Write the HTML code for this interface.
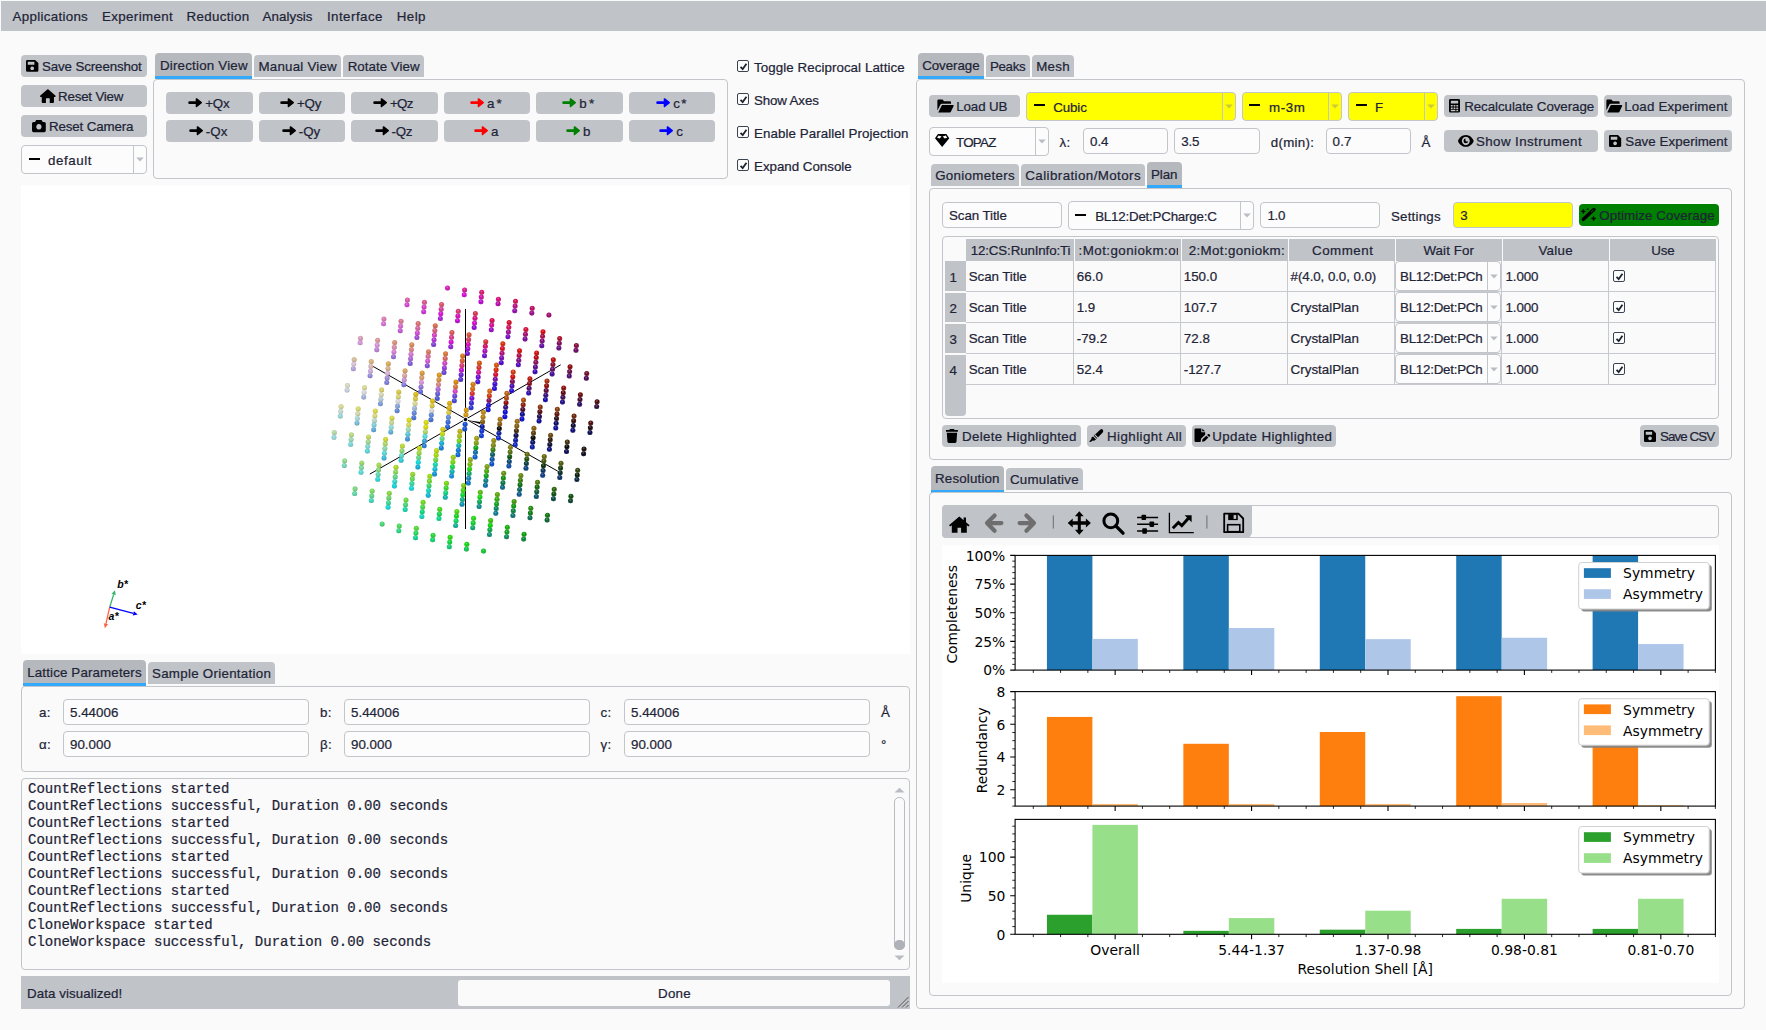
<!DOCTYPE html>
<html lang="en"><head><meta charset="utf-8"><title>Coverage</title>
<style>
html,body{margin:0;padding:0}
body{width:1766px;height:1030px;overflow:hidden;background:#fafafa;position:relative;font-family:'Liberation Sans','DejaVu Sans',sans-serif;font-size:13.33px;color:#1e2437}
.a{position:absolute;box-sizing:content-box}
.t{position:absolute;white-space:pre;line-height:20px;height:20px;-webkit-text-stroke:0.22px currentColor}
svg{display:block;overflow:visible}
</style></head>
<body>
<div class="a " style="left:1px;top:1px;width:1765px;height:30px;background:#c0c3c8;"></div>
<span id="t0" class="t" style="left:12.6px;top:7px;letter-spacing:0.3px;">Applications</span>
<span id="t1" class="t" style="left:101.9px;top:7px;letter-spacing:0.39px;">Experiment</span>
<span id="t2" class="t" style="left:186.5px;top:7px;letter-spacing:0.33px;">Reduction</span>
<span id="t3" class="t" style="left:262.6px;top:7px;letter-spacing:0.04px;">Analysis</span>
<span id="t4" class="t" style="left:326.9px;top:7px;letter-spacing:0.47px;">Interface</span>
<span id="t5" class="t" style="left:396.7px;top:7px;letter-spacing:0.46px;">Help</span>
<div class="a " style="left:21px;top:55px;width:126px;height:22px;background:#c0c3c8;border-radius:4px;"></div>
<svg class="a" style="left:25.8px;top:60px" width="12.4" height="11.8" viewBox="0 0 14 14" fill="#000" preserveAspectRatio="none"><path d="M1.500 0h8.800L14 3.700v8.800A1.500 1.500 0 0 1 12.500 14H1.500A1.500 1.500 0 0 1 0 12.500V1.500A1.500 1.500 0 0 1 1.500 0zM2 2v3.500h7.500V2zM7 7.700a2.150 2.150 0 1 0 .010 0z" fill-rule="evenodd"/></svg>
<span id="t6" class="t" style="left:42px;top:57px;letter-spacing:-0.12px;">Save Screenshot</span>
<div class="a " style="left:21px;top:85px;width:126px;height:22px;background:#c0c3c8;border-radius:4px;"></div>
<svg class="a" style="left:39.9px;top:88.9px" width="15.7" height="14" viewBox="0 0 18 16" fill="#000" preserveAspectRatio="none"><path d="M9 0.200a1 1 0 0 1 .700.260l7.900 7a1 1 0 0 1-.660 1.740H16v5.600A1.200 1.200 0 0 1 14.800 16H11.200V11.200a.600.600 0 0 0-.600-.600H7.400a.600.600 0 0 0-.600.600V16H3.200A1.200 1.200 0 0 1 2 14.800V9.200H1.060A1 1 0 0 1 .400 7.460l7.900-7A1 1 0 0 1 9 .200z"/></svg>
<span id="t7" class="t" style="left:58px;top:87px;letter-spacing:-0.19px;">Reset View</span>
<div class="a " style="left:21px;top:115px;width:126px;height:22px;background:#c0c3c8;border-radius:4px;"></div>
<svg class="a" style="left:32px;top:119.5px" width="13.8" height="12.2" viewBox="0 0 16 14" fill="#000" preserveAspectRatio="none"><path d="M5.300 0h5.400a1 1 0 0 1 .900.600l.700 1.600H14.200A1.800 1.800 0 0 1 16 4v8.200A1.800 1.800 0 0 1 14.200 14H1.800A1.800 1.800 0 0 1 0 12.200V4A1.800 1.800 0 0 1 1.800 2.200H3.700l.700-1.600A1 1 0 0 1 5.300 0zM8 4.700a3.100 3.100 0 1 0 .010 0z" fill-rule="evenodd"/></svg>
<span id="t8" class="t" style="left:49px;top:117px;letter-spacing:-0.13px;">Reset Camera</span>
<div class="a " style="left:21px;top:145px;width:124px;height:27px;background:#fcfcfc;border:1px solid #c2c5ca;border-radius:4px;"></div>
<div class="a " style="left:133px;top:146px;width:1px;height:27px;background:#c2c5ca;"></div>
<svg class="a" style="left:136px;top:156.5px;" width="8" height="5" viewBox="0 0 8 5"><path d="M0.3 0.5h7.4L4 4.6z" fill="#b9bcc2"/></svg>
<div class="a " style="left:28.5px;top:158px;width:11px;height:2px;background:#000;"></div>
<span id="t9" class="t" style="left:48px;top:151px;letter-spacing:0.59px;">default</span>
<div class="a " style="left:155px;top:53px;width:97px;height:25.5px;background:#b5b8bd;border-radius:4px 4px 0 0;"></div>
<div class="a " style="left:155px;top:75.5px;width:97px;height:3px;background:#33a9fc;"></div>
<span id="t10" class="t" style="left:160px;top:56px;letter-spacing:0.2px;">Direction View</span>
<div class="a " style="left:254px;top:55px;width:87px;height:22px;background:#c0c3c8;border-radius:4px 4px 0 0;"></div>
<span id="t11" class="t" style="left:258.5px;top:57px;letter-spacing:0.21px;">Manual View</span>
<div class="a " style="left:343px;top:55px;width:81px;height:22px;background:#c0c3c8;border-radius:4px 4px 0 0;"></div>
<span id="t12" class="t" style="left:347.7px;top:57px;letter-spacing:0.02px;">Rotate View</span>
<div class="a " style="left:153px;top:79px;width:573px;height:98px;border:1px solid #c2c5ca;border-radius:4px;"></div>
<div class="a " style="left:166px;top:92px;width:87px;height:21.5px;background:#c0c3c8;border-radius:4px;"></div>
<svg class="a" style="left:187.9px;top:98px" width="14.2" height="9.4" viewBox="0 0 14.2 9.4" fill="#000" stroke="#000"><path d="M1.600 4.700H9" stroke-width="2.700" stroke-linecap="round" fill="none"/><path d="M8.500 1L13.200 4.700 8.500 8.400z" stroke-width="1.600" stroke-linejoin="round"/></svg>
<span id="t13" class="t" style="left:205.3px;top:94px;letter-spacing:-0.26px;">+Qx</span>
<div class="a " style="left:166px;top:120px;width:87px;height:21.5px;background:#c0c3c8;border-radius:4px;"></div>
<svg class="a" style="left:188.9px;top:126px" width="14.2" height="9.4" viewBox="0 0 14.2 9.4" fill="#000" stroke="#000"><path d="M1.600 4.700H9" stroke-width="2.700" stroke-linecap="round" fill="none"/><path d="M8.500 1L13.200 4.700 8.500 8.400z" stroke-width="1.600" stroke-linejoin="round"/></svg>
<span id="t14" class="t" style="left:205.8px;top:122px;letter-spacing:0.11px;">-Qx</span>
<div class="a " style="left:259px;top:92px;width:86px;height:21.5px;background:#c0c3c8;border-radius:4px;"></div>
<svg class="a" style="left:280.1px;top:98px" width="14.2" height="9.4" viewBox="0 0 14.2 9.4" fill="#000" stroke="#000"><path d="M1.600 4.700H9" stroke-width="2.700" stroke-linecap="round" fill="none"/><path d="M8.500 1L13.200 4.700 8.500 8.400z" stroke-width="1.600" stroke-linejoin="round"/></svg>
<span id="t15" class="t" style="left:297px;top:94px;letter-spacing:-0.26px;">+Qy</span>
<div class="a " style="left:259px;top:120px;width:86px;height:21.5px;background:#c0c3c8;border-radius:4px;"></div>
<svg class="a" style="left:281.9px;top:126px" width="14.2" height="9.4" viewBox="0 0 14.2 9.4" fill="#000" stroke="#000"><path d="M1.600 4.700H9" stroke-width="2.700" stroke-linecap="round" fill="none"/><path d="M8.500 1L13.200 4.700 8.500 8.400z" stroke-width="1.600" stroke-linejoin="round"/></svg>
<span id="t16" class="t" style="left:298.8px;top:122px;letter-spacing:0.01px;">-Qy</span>
<div class="a " style="left:351px;top:92px;width:87px;height:21.5px;background:#c0c3c8;border-radius:4px;"></div>
<svg class="a" style="left:372.8px;top:98px" width="14.2" height="9.4" viewBox="0 0 14.2 9.4" fill="#000" stroke="#000"><path d="M1.600 4.700H9" stroke-width="2.700" stroke-linecap="round" fill="none"/><path d="M8.500 1L13.200 4.700 8.500 8.400z" stroke-width="1.600" stroke-linejoin="round"/></svg>
<span id="t17" class="t" style="left:390px;top:94px;letter-spacing:-0.76px;">+Qz</span>
<div class="a " style="left:351px;top:120px;width:87px;height:21.5px;background:#c0c3c8;border-radius:4px;"></div>
<svg class="a" style="left:374.9px;top:126px" width="14.2" height="9.4" viewBox="0 0 14.2 9.4" fill="#000" stroke="#000"><path d="M1.600 4.700H9" stroke-width="2.700" stroke-linecap="round" fill="none"/><path d="M8.500 1L13.200 4.700 8.500 8.400z" stroke-width="1.600" stroke-linejoin="round"/></svg>
<span id="t18" class="t" style="left:391.5px;top:122px;letter-spacing:-0.24px;">-Qz</span>
<div class="a " style="left:444px;top:92px;width:86px;height:21.5px;background:#c0c3c8;border-radius:4px;"></div>
<svg class="a" style="left:469.7px;top:98px" width="14.2" height="9.4" viewBox="0 0 14.2 9.4" fill="#f00" stroke="#f00"><path d="M1.600 4.700H9" stroke-width="2.700" stroke-linecap="round" fill="none"/><path d="M8.500 1L13.200 4.700 8.500 8.400z" stroke-width="1.600" stroke-linejoin="round"/></svg>
<span id="t19" class="t" style="left:487.1px;top:94px;letter-spacing:2.09px;">a*</span>
<div class="a " style="left:444px;top:120px;width:86px;height:21.5px;background:#c0c3c8;border-radius:4px;"></div>
<svg class="a" style="left:473.8px;top:126px" width="14.2" height="9.4" viewBox="0 0 14.2 9.4" fill="#f00" stroke="#f00"><path d="M1.600 4.700H9" stroke-width="2.700" stroke-linecap="round" fill="none"/><path d="M8.500 1L13.200 4.700 8.500 8.400z" stroke-width="1.600" stroke-linejoin="round"/></svg>
<span id="t20" class="t" style="left:491.1px;top:122px;">a</span>
<div class="a " style="left:536px;top:92px;width:87px;height:21.5px;background:#c0c3c8;border-radius:4px;"></div>
<svg class="a" style="left:561.8px;top:98px" width="14.2" height="9.4" viewBox="0 0 14.2 9.4" fill="#008000" stroke="#008000"><path d="M1.600 4.700H9" stroke-width="2.700" stroke-linecap="round" fill="none"/><path d="M8.500 1L13.200 4.700 8.500 8.400z" stroke-width="1.600" stroke-linejoin="round"/></svg>
<span id="t21" class="t" style="left:579.2px;top:94px;letter-spacing:2.39px;">b*</span>
<div class="a " style="left:536px;top:120px;width:87px;height:21.5px;background:#c0c3c8;border-radius:4px;"></div>
<svg class="a" style="left:565.9px;top:126px" width="14.2" height="9.4" viewBox="0 0 14.2 9.4" fill="#008000" stroke="#008000"><path d="M1.600 4.700H9" stroke-width="2.700" stroke-linecap="round" fill="none"/><path d="M8.500 1L13.200 4.700 8.500 8.400z" stroke-width="1.600" stroke-linejoin="round"/></svg>
<span id="t22" class="t" style="left:583px;top:122px;">b</span>
<div class="a " style="left:629px;top:92px;width:86px;height:21.5px;background:#c0c3c8;border-radius:4px;"></div>
<svg class="a" style="left:655.9px;top:98px" width="14.2" height="9.4" viewBox="0 0 14.2 9.4" fill="#00f" stroke="#00f"><path d="M1.600 4.700H9" stroke-width="2.700" stroke-linecap="round" fill="none"/><path d="M8.500 1L13.200 4.700 8.500 8.400z" stroke-width="1.600" stroke-linejoin="round"/></svg>
<span id="t23" class="t" style="left:673.3px;top:94px;letter-spacing:1.24px;">c*</span>
<div class="a " style="left:629px;top:120px;width:86px;height:21.5px;background:#c0c3c8;border-radius:4px;"></div>
<svg class="a" style="left:658.9px;top:126px" width="14.2" height="9.4" viewBox="0 0 14.2 9.4" fill="#00f" stroke="#00f"><path d="M1.600 4.700H9" stroke-width="2.700" stroke-linecap="round" fill="none"/><path d="M8.500 1L13.200 4.700 8.500 8.400z" stroke-width="1.600" stroke-linejoin="round"/></svg>
<span id="t24" class="t" style="left:676.3px;top:122px;">c</span>
<div class="a " style="left:737px;top:60px;width:10px;height:10px;background:#fcfcfc;border:1px solid #3c4350;border-radius:2px;"></div>
<svg class="a" style="left:738.5px;top:61.5px;" width="9" height="9" viewBox="0 0 10 10"><path d="M1.700 5.300L4.100 7.800 8.300 2" fill="none" stroke="#1c2430" stroke-width="2"/></svg>
<span id="t25" class="t" style="left:754px;top:58px;letter-spacing:0.07px;">Toggle Reciprocal Lattice</span>
<div class="a " style="left:737px;top:93px;width:10px;height:10px;background:#fcfcfc;border:1px solid #3c4350;border-radius:2px;"></div>
<svg class="a" style="left:738.5px;top:94.5px;" width="9" height="9" viewBox="0 0 10 10"><path d="M1.700 5.300L4.100 7.800 8.300 2" fill="none" stroke="#1c2430" stroke-width="2"/></svg>
<span id="t26" class="t" style="left:754px;top:91px;letter-spacing:-0.14px;">Show Axes</span>
<div class="a " style="left:737px;top:126px;width:10px;height:10px;background:#fcfcfc;border:1px solid #3c4350;border-radius:2px;"></div>
<svg class="a" style="left:738.5px;top:127.5px;" width="9" height="9" viewBox="0 0 10 10"><path d="M1.700 5.300L4.100 7.800 8.300 2" fill="none" stroke="#1c2430" stroke-width="2"/></svg>
<span id="t27" class="t" style="left:754px;top:124px;letter-spacing:0.07px;">Enable Parallel Projection</span>
<div class="a " style="left:737px;top:159px;width:10px;height:10px;background:#fcfcfc;border:1px solid #3c4350;border-radius:2px;"></div>
<svg class="a" style="left:738.5px;top:160.5px;" width="9" height="9" viewBox="0 0 10 10"><path d="M1.700 5.300L4.100 7.800 8.300 2" fill="none" stroke="#1c2430" stroke-width="2"/></svg>
<span id="t28" class="t" style="left:754px;top:157px;letter-spacing:-0.01px;">Expand Console</span>
<div class="a " style="left:21px;top:185px;width:889px;height:469px;background:#fff;"></div>
<svg class="a" style="left:21px;top:185px" width="889" height="469" viewBox="0 0 889 469"><path d="M444.5 124V344 M351.7 181.2L536.8 286.2 M348.8 289.1L539.7 179.8" stroke="#000" stroke-width="1" fill="none"/><defs><radialGradient id="sh" cx="0.45" cy="0.35" r="0.75"><stop offset="0" stop-color="#fff" stop-opacity="0.35"/><stop offset="0.45" stop-color="#fff" stop-opacity="0"/><stop offset="1" stop-color="#000" stop-opacity="0.45"/></radialGradient><g id="d"><circle r="2.5" fill="currentColor"/><circle r="2.5" fill="url(#sh)"/></g></defs><use href="#d" x="392.8" y="232.63" color="#3e6ed4"/><use href="#d" x="416.24" y="213.57" color="#414dd4"/><use href="#d" x="403.16" y="260.77" color="#1a7ad4"/><use href="#d" x="439.68" y="194.51" color="#442ad4"/><use href="#d" x="426.6" y="241.71" color="#1b55d4"/><use href="#d" x="413.52" y="288.91" color="#008ad4"/><use href="#d" x="450.04" y="222.65" color="#1d2dd4"/><use href="#d" x="436.96" y="269.85" color="#0060d4"/><use href="#d" x="473.48" y="203.59" color="#1f00d4"/><use href="#d" x="460.4" y="250.79" color="#0031d4"/><use href="#d" x="447.32" y="297.99" color="#006dca"/><use href="#d" x="483.84" y="231.73" color="#0000d4"/><use href="#d" x="470.76" y="278.93" color="#0047c8"/><use href="#d" x="494.2" y="259.87" color="#001dc5"/><use href="#d" x="365.74" y="197.6" color="#7274d4"/><use href="#d" x="352.66" y="244.8" color="#52a1d4"/><use href="#d" x="389.18" y="178.54" color="#7655d4"/><use href="#d" x="376.1" y="225.74" color="#5680d4"/><use href="#d" x="363.02" y="272.94" color="#30b4d4"/><use href="#d" x="412.62" y="159.48" color="#7c33d4"/><use href="#d" x="399.54" y="206.68" color="#5b5ed4"/><use href="#d" x="386.46" y="253.88" color="#3390d4"/><use href="#d" x="373.38" y="301.08" color="#02cfd4"/><use href="#d" x="422.98" y="187.62" color="#5f38d4"/><use href="#d" x="409.9" y="234.82" color="#3669d4"/><use href="#d" x="396.82" y="282.02" color="#03a6d4"/><use href="#d" x="446.42" y="168.56" color="#640ed4"/><use href="#d" x="433.34" y="215.76" color="#3a3dd4"/><use href="#d" x="420.26" y="262.96" color="#0478d4"/><use href="#d" x="407.18" y="310.16" color="#00b3d4"/><use href="#d" x="456.78" y="196.7" color="#3d0dd4"/><use href="#d" x="443.7" y="243.9" color="#0545d4"/><use href="#d" x="430.62" y="291.1" color="#0087d4"/><use href="#d" x="480.22" y="177.64" color="#4400d4"/><use href="#d" x="467.14" y="224.84" color="#060bd4"/><use href="#d" x="454.06" y="272.04" color="#0056d4"/><use href="#d" x="440.98" y="319.24" color="#008cab"/><use href="#d" x="490.58" y="205.78" color="#1600d4"/><use href="#d" x="477.5" y="252.98" color="#0021d1"/><use href="#d" x="464.42" y="300.18" color="#0067a7"/><use href="#d" x="514.02" y="186.72" color="#3200b9"/><use href="#d" x="500.94" y="233.92" color="#0000cd"/><use href="#d" x="487.86" y="281.12" color="#003fa3"/><use href="#d" x="474.78" y="328.32" color="#00728c"/><use href="#d" x="524.38" y="214.86" color="#0b00ac"/><use href="#d" x="511.3" y="262.06" color="#00139f"/><use href="#d" x="498.22" y="309.26" color="#005287"/><use href="#d" x="534.74" y="243" color="#00009a"/><use href="#d" x="521.66" y="290.2" color="#002f83"/><use href="#d" x="349.04" y="190.71" color="#8d86d4"/><use href="#d" x="335.96" y="237.91" color="#6eb8d4"/><use href="#d" x="372.48" y="171.65" color="#9465d4"/><use href="#d" x="359.4" y="218.85" color="#7396d4"/><use href="#d" x="346.32" y="266.05" color="#4dd1d4"/><use href="#d" x="395.92" y="152.59" color="#9a41d4"/><use href="#d" x="382.84" y="199.79" color="#7971d4"/><use href="#d" x="369.76" y="246.99" color="#51abd4"/><use href="#d" x="356.68" y="294.19" color="#1fd4d4"/><use href="#d" x="419.36" y="133.53" color="#a21ad4"/><use href="#d" x="406.28" y="180.73" color="#8048d4"/><use href="#d" x="393.2" y="227.93" color="#5680d4"/><use href="#d" x="380.12" y="275.13" color="#22c8d4"/><use href="#d" x="367.04" y="322.33" color="#02d4cf"/><use href="#d" x="429.72" y="161.67" color="#871bd4"/><use href="#d" x="416.64" y="208.87" color="#5c51d4"/><use href="#d" x="403.56" y="256.07" color="#2597d4"/><use href="#d" x="390.48" y="303.27" color="#00d4d4"/><use href="#d" x="453.16" y="142.61" color="#8f00d4"/><use href="#d" x="440.08" y="189.81" color="#631cd4"/><use href="#d" x="427" y="237.01" color="#285fd4"/><use href="#d" x="413.92" y="284.21" color="#00b5d4"/><use href="#d" x="400.84" y="331.41" color="#00d4b3"/><use href="#d" x="463.52" y="170.75" color="#6a00d4"/><use href="#d" x="450.44" y="217.95" color="#2c1ed4"/><use href="#d" x="437.36" y="265.15" color="#0073d4"/><use href="#d" x="424.28" y="312.35" color="#00afaf"/><use href="#d" x="486.96" y="151.69" color="#6f00c6"/><use href="#d" x="473.88" y="198.89" color="#3600d4"/><use href="#d" x="460.8" y="246.09" color="#0027d4"/><use href="#d" x="447.72" y="293.29" color="#0080aa"/><use href="#d" x="434.64" y="340.49" color="#00ab8c"/><use href="#d" x="497.32" y="179.83" color="#4c00b9"/><use href="#d" x="484.24" y="227.03" color="#0000d4"/><use href="#d" x="471.16" y="274.23" color="#004da5"/><use href="#d" x="458.08" y="321.43" color="#008787"/><use href="#d" x="520.76" y="160.77" color="#5800a0"/><use href="#d" x="507.68" y="207.97" color="#2200a8"/><use href="#d" x="494.6" y="255.17" color="#00139f"/><use href="#d" x="481.52" y="302.37" color="#006082"/><use href="#d" x="468.44" y="349.57" color="#008c72"/><use href="#d" x="531.12" y="188.91" color="#390092"/><use href="#d" x="518.04" y="236.11" color="#000094"/><use href="#d" x="504.96" y="283.31" color="#00367c"/><use href="#d" x="491.88" y="330.51" color="#006c6c"/><use href="#d" x="541.48" y="217.05" color="#150082"/><use href="#d" x="528.4" y="264.25" color="#000876"/><use href="#d" x="515.32" y="311.45" color="#004b67"/><use href="#d" x="551.84" y="245.19" color="#00006e"/><use href="#d" x="538.76" y="292.39" color="#002761"/><use href="#d" x="332.34" y="183.82" color="#ad9bd4"/><use href="#d" x="319.26" y="231.02" color="#8ed3d4"/><use href="#d" x="355.78" y="164.76" color="#b678d4"/><use href="#d" x="342.7" y="211.96" color="#96afd4"/><use href="#d" x="329.62" y="259.16" color="#6fd4d4"/><use href="#d" x="379.22" y="145.7" color="#bf52d4"/><use href="#d" x="366.14" y="192.9" color="#9e88d4"/><use href="#d" x="353.06" y="240.1" color="#76cbd4"/><use href="#d" x="339.98" y="287.3" color="#4dd4d1"/><use href="#d" x="402.66" y="126.64" color="#c828d4"/><use href="#d" x="389.58" y="173.84" color="#a85cd4"/><use href="#d" x="376.5" y="221.04" color="#7e9ed4"/><use href="#d" x="363.42" y="268.24" color="#48d4d4"/><use href="#d" x="350.34" y="315.44" color="#30d4b4"/><use href="#d" x="413.02" y="154.78" color="#b22bd4"/><use href="#d" x="399.94" y="201.98" color="#876ad4"/><use href="#d" x="386.86" y="249.18" color="#4fbed4"/><use href="#d" x="373.78" y="296.38" color="#22d4c8"/><use href="#d" x="436.46" y="135.72" color="#be00d4"/><use href="#d" x="423.38" y="182.92" color="#9230d4"/><use href="#d" x="410.3" y="230.12" color="#5680d4"/><use href="#d" x="397.22" y="277.32" color="#02d4d4"/><use href="#d" x="384.14" y="324.52" color="#03d4a6"/><use href="#d" x="459.9" y="116.66" color="#b400d4"/><use href="#d" x="446.82" y="163.86" color="#9e00d4"/><use href="#d" x="433.74" y="211.06" color="#5f38d4"/><use href="#d" x="420.66" y="258.26" color="#03a6d4"/><use href="#d" x="407.58" y="305.46" color="#00d4b5"/><use href="#d" x="394.5" y="352.66" color="#00d48a"/><use href="#d" x="470.26" y="144.8" color="#9600c7"/><use href="#d" x="457.18" y="192" color="#6a00d4"/><use href="#d" x="444.1" y="239.2" color="#0545d4"/><use href="#d" x="431.02" y="286.4" color="#00afaf"/><use href="#d" x="417.94" y="333.6" color="#00d487"/><use href="#d" x="493.7" y="125.74" color="#9000aa"/><use href="#d" x="480.62" y="172.94" color="#7100b7"/><use href="#d" x="467.54" y="220.14" color="#1600d4"/><use href="#d" x="454.46" y="267.34" color="#0067a7"/><use href="#d" x="441.38" y="314.54" color="#00aa80"/><use href="#d" x="428.3" y="361.74" color="#00ca6d"/><use href="#d" x="504.06" y="153.88" color="#74009c"/><use href="#d" x="490.98" y="201.08" color="#4200a4"/><use href="#d" x="477.9" y="248.28" color="#00139f"/><use href="#d" x="464.82" y="295.48" color="#007979"/><use href="#d" x="451.74" y="342.68" color="#00a767"/><use href="#d" x="514.42" y="182.02" color="#54008c"/><use href="#d" x="501.34" y="229.22" color="#04008a"/><use href="#d" x="488.26" y="276.42" color="#004270"/><use href="#d" x="475.18" y="323.62" color="#008260"/><use href="#d" x="537.86" y="162.96" color="#5d007f"/><use href="#d" x="524.78" y="210.16" color="#2c0078"/><use href="#d" x="511.7" y="257.36" color="#000467"/><use href="#d" x="498.62" y="304.56" color="#005959"/><use href="#d" x="485.54" y="351.76" color="#008752"/><use href="#d" x="548.22" y="191.1" color="#40006f"/><use href="#d" x="535.14" y="238.3" color="#00005f"/><use href="#d" x="522.06" y="285.5" color="#002d51"/><use href="#d" x="508.98" y="332.7" color="#00674b"/><use href="#d" x="558.58" y="219.24" color="#1e005c"/><use href="#d" x="545.5" y="266.44" color="#000049"/><use href="#d" x="532.42" y="313.64" color="#004444"/><use href="#d" x="568.94" y="247.38" color="#000046"/><use href="#d" x="555.86" y="294.58" color="#001f3d"/><use href="#d" x="339.08" y="157.87" color="#d48ed4"/><use href="#d" x="326" y="205.07" color="#c0ced4"/><use href="#d" x="312.92" y="252.27" color="#8ed4d3"/><use href="#d" x="362.52" y="138.81" color="#d465d4"/><use href="#d" x="349.44" y="186.01" color="#cca4d4"/><use href="#d" x="336.36" y="233.21" color="#a5d4d4"/><use href="#d" x="323.28" y="280.41" color="#6ed4b8"/><use href="#d" x="385.96" y="119.75" color="#d43ad4"/><use href="#d" x="372.88" y="166.95" color="#d475d4"/><use href="#d" x="359.8" y="214.15" color="#b1c3d4"/><use href="#d" x="346.72" y="261.35" color="#76d4cb"/><use href="#d" x="333.64" y="308.55" color="#52d4a1"/><use href="#d" x="396.32" y="147.89" color="#d43fd4"/><use href="#d" x="383.24" y="195.09" color="#bf8bd4"/><use href="#d" x="370.16" y="242.29" color="#88d4d4"/><use href="#d" x="357.08" y="289.49" color="#51d4ab"/><use href="#d" x="419.76" y="128.83" color="#d406d4"/><use href="#d" x="406.68" y="176.03" color="#d04ad4"/><use href="#d" x="393.6" y="223.23" color="#96afd4"/><use href="#d" x="380.52" y="270.43" color="#4fd4be"/><use href="#d" x="367.44" y="317.63" color="#33d490"/><use href="#d" x="443.2" y="109.77" color="#d400d4"/><use href="#d" x="430.12" y="156.97" color="#d400d4"/><use href="#d" x="417.04" y="204.17" color="#a85cd4"/><use href="#d" x="403.96" y="251.37" color="#48d4d4"/><use href="#d" x="390.88" y="298.57" color="#25d497"/><use href="#d" x="377.8" y="345.77" color="#1ad47a"/><use href="#d" x="453.56" y="137.91" color="#cd00c9"/><use href="#d" x="440.48" y="185.11" color="#be00d4"/><use href="#d" x="427.4" y="232.31" color="#5680d4"/><use href="#d" x="414.32" y="279.51" color="#03d4a6"/><use href="#d" x="401.24" y="326.71" color="#04d478"/><use href="#d" x="477" y="118.85" color="#b600a7"/><use href="#d" x="463.92" y="166.05" color="#a700b6"/><use href="#d" x="450.84" y="213.25" color="#6a00d4"/><use href="#d" x="437.76" y="260.45" color="#00afaf"/><use href="#d" x="424.68" y="307.65" color="#00d473"/><use href="#d" x="411.6" y="354.85" color="#00d460"/><use href="#d" x="487.36" y="146.99" color="#9a0097"/><use href="#d" x="474.28" y="194.19" color="#74009c"/><use href="#d" x="461.2" y="241.39" color="#00139f"/><use href="#d" x="448.12" y="288.59" color="#00a767"/><use href="#d" x="435.04" y="335.79" color="#00d456"/><use href="#d" x="510.8" y="127.93" color="#930086"/><use href="#d" x="497.72" y="175.13" color="#780082"/><use href="#d" x="484.64" y="222.33" color="#2c0078"/><use href="#d" x="471.56" y="269.53" color="#005959"/><use href="#d" x="458.48" y="316.73" color="#00a54d"/><use href="#d" x="445.4" y="363.93" color="#00c847"/><use href="#d" x="521.16" y="156.07" color="#790076"/><use href="#d" x="508.08" y="203.27" color="#4c0069"/><use href="#d" x="495" y="250.47" color="#000049"/><use href="#d" x="481.92" y="297.67" color="#007042"/><use href="#d" x="468.84" y="344.87" color="#00a33f"/><use href="#d" x="531.52" y="184.21" color="#5a0063"/><use href="#d" x="518.44" y="231.41" color="#150049"/><use href="#d" x="505.36" y="278.61" color="#003636"/><use href="#d" x="492.28" y="325.81" color="#007c36"/><use href="#d" x="554.96" y="165.15" color="#62005f"/><use href="#d" x="541.88" y="212.35" color="#35004c"/><use href="#d" x="528.8" y="259.55" color="#000028"/><use href="#d" x="515.72" y="306.75" color="#00512d"/><use href="#d" x="502.64" y="353.95" color="#00832f"/><use href="#d" x="565.32" y="193.29" color="#46004e"/><use href="#d" x="552.24" y="240.49" color="#080030"/><use href="#d" x="539.16" y="287.69" color="#002222"/><use href="#d" x="526.08" y="334.89" color="#006127"/><use href="#d" x="575.68" y="221.43" color="#260039"/><use href="#d" x="562.6" y="268.63" color="#000017"/><use href="#d" x="549.52" y="315.83" color="#003d1f"/><use href="#d" x="332.74" y="179.12" color="#d4bdd4"/><use href="#d" x="319.66" y="226.32" color="#c0d4ce"/><use href="#d" x="356.18" y="160.06" color="#d48bd4"/><use href="#d" x="343.1" y="207.26" color="#d4d4d4"/><use href="#d" x="330.02" y="254.46" color="#96d4af"/><use href="#d" x="379.62" y="141" color="#d45ecb"/><use href="#d" x="366.54" y="188.2" color="#d4acd4"/><use href="#d" x="353.46" y="235.4" color="#b1d4c3"/><use href="#d" x="340.38" y="282.6" color="#73d496"/><use href="#d" x="403.06" y="121.94" color="#d435c0"/><use href="#d" x="389.98" y="169.14" color="#d46dcf"/><use href="#d" x="376.9" y="216.34" color="#d4d4d4"/><use href="#d" x="363.82" y="263.54" color="#7ed49e"/><use href="#d" x="350.74" y="310.74" color="#56d480"/><use href="#d" x="426.5" y="102.88" color="#d40fb6"/><use href="#d" x="413.42" y="150.08" color="#d435c0"/><use href="#d" x="400.34" y="197.28" color="#d48bd4"/><use href="#d" x="387.26" y="244.48" color="#96d4af"/><use href="#d" x="374.18" y="291.68" color="#56d480"/><use href="#d" x="361.1" y="338.88" color="#3ed46e"/><use href="#d" x="436.86" y="131.02" color="#d403b3"/><use href="#d" x="423.78" y="178.22" color="#d435c0"/><use href="#d" x="410.7" y="225.42" color="#d4d4d4"/><use href="#d" x="397.62" y="272.62" color="#56d480"/><use href="#d" x="384.54" y="319.82" color="#36d469"/><use href="#d" x="460.3" y="111.96" color="#d400a3"/><use href="#d" x="447.22" y="159.16" color="#d400ad"/><use href="#d" x="434.14" y="206.36" color="#d435c0"/><use href="#d" x="421.06" y="253.56" color="#56d480"/><use href="#d" x="407.98" y="300.76" color="#28d45f"/><use href="#d" x="394.9" y="347.96" color="#1bd455"/><use href="#d" x="470.66" y="140.1" color="#cf008f"/><use href="#d" x="457.58" y="187.3" color="#cf008f"/><use href="#d" x="431.42" y="281.7" color="#05d445"/><use href="#d" x="418.34" y="328.9" color="#05d445"/><use href="#d" x="494.1" y="121.04" color="#b8007e"/><use href="#d" x="481.02" y="168.24" color="#ab0075"/><use href="#d" x="467.94" y="215.44" color="#7d0053"/><use href="#d" x="454.86" y="262.64" color="#009f13"/><use href="#d" x="441.78" y="309.84" color="#00d427"/><use href="#d" x="428.7" y="357.04" color="#00d431"/><use href="#d" x="504.46" y="149.18" color="#9e006b"/><use href="#d" x="491.38" y="196.38" color="#7d0053"/><use href="#d" x="478.3" y="243.58" color="#000000"/><use href="#d" x="465.22" y="290.78" color="#009f13"/><use href="#d" x="452.14" y="337.98" color="#00d121"/><use href="#d" x="527.9" y="130.12" color="#960065"/><use href="#d" x="514.82" y="177.32" color="#7d0053"/><use href="#d" x="501.74" y="224.52" color="#3e0025"/><use href="#d" x="488.66" y="271.72" color="#004900"/><use href="#d" x="475.58" y="318.92" color="#009f13"/><use href="#d" x="462.5" y="366.12" color="#00c51d"/><use href="#d" x="538.26" y="158.26" color="#7d0053"/><use href="#d" x="525.18" y="205.46" color="#550036"/><use href="#d" x="512.1" y="252.66" color="#000000"/><use href="#d" x="499.02" y="299.86" color="#006704"/><use href="#d" x="485.94" y="347.06" color="#009f13"/><use href="#d" x="548.62" y="186.4" color="#60003e"/><use href="#d" x="535.54" y="233.6" color="#230011"/><use href="#d" x="522.46" y="280.8" color="#002800"/><use href="#d" x="509.38" y="328" color="#007608"/><use href="#d" x="558.98" y="214.54" color="#3e0025"/><use href="#d" x="545.9" y="261.74" color="#000000"/><use href="#d" x="532.82" y="308.94" color="#004900"/><use href="#d" x="569.34" y="242.68" color="#140006"/><use href="#d" x="556.26" y="289.88" color="#001700"/><use href="#d" x="339.48" y="153.17" color="#d497b5"/><use href="#d" x="326.4" y="200.37" color="#d4d4bd"/><use href="#d" x="313.32" y="247.57" color="#add49b"/><use href="#d" x="362.92" y="134.11" color="#d472ac"/><use href="#d" x="349.84" y="181.31" color="#d4b1b1"/><use href="#d" x="336.76" y="228.51" color="#ccd4a4"/><use href="#d" x="323.68" y="275.71" color="#8dd486"/><use href="#d" x="386.36" y="115.05" color="#d451a4"/><use href="#d" x="373.28" y="162.25" color="#d482a7"/><use href="#d" x="360.2" y="209.45" color="#d4d4ac"/><use href="#d" x="347.12" y="256.65" color="#9ed488"/><use href="#d" x="334.04" y="303.85" color="#72d474"/><use href="#d" x="396.72" y="143.19" color="#d4589d"/><use href="#d" x="383.64" y="190.39" color="#d49e9e"/><use href="#d" x="370.56" y="237.59" color="#bfd48b"/><use href="#d" x="357.48" y="284.79" color="#79d471"/><use href="#d" x="420.16" y="124.13" color="#d43095"/><use href="#d" x="407.08" y="171.33" color="#d46392"/><use href="#d" x="394" y="218.53" color="#d4d48b"/><use href="#d" x="380.92" y="265.73" color="#87d46a"/><use href="#d" x="367.84" y="312.93" color="#5bd45e"/><use href="#d" x="443.6" y="105.07" color="#d40c8d"/><use href="#d" x="430.52" y="152.27" color="#d42f87"/><use href="#d" x="417.44" y="199.47" color="#d47b7b"/><use href="#d" x="404.36" y="246.67" color="#a8d45c"/><use href="#d" x="391.28" y="293.87" color="#5cd451"/><use href="#d" x="378.2" y="341.07" color="#41d44d"/><use href="#d" x="453.96" y="133.21" color="#d4007d"/><use href="#d" x="440.88" y="180.41" color="#d42c6d"/><use href="#d" x="427.8" y="227.61" color="#d4c035"/><use href="#d" x="414.72" y="274.81" color="#5fd438"/><use href="#d" x="401.64" y="322.01" color="#3ad43d"/><use href="#d" x="477.4" y="114.15" color="#d40074"/><use href="#d" x="464.32" y="161.35" color="#d40061"/><use href="#d" x="451.24" y="208.55" color="#d42525"/><use href="#d" x="438.16" y="255.75" color="#6ad400"/><use href="#d" x="425.08" y="302.95" color="#2cd41e"/><use href="#d" x="412" y="350.15" color="#1dd42d"/><use href="#d" x="487.76" y="142.29" color="#d0005b"/><use href="#d" x="474.68" y="189.49" color="#d0002e"/><use href="#d" x="461.6" y="236.69" color="#7d5300"/><use href="#d" x="448.52" y="283.89" color="#16d400"/><use href="#d" x="435.44" y="331.09" color="#06d40b"/><use href="#d" x="511.2" y="123.23" color="#ba0059"/><use href="#d" x="498.12" y="170.43" color="#af003d"/><use href="#d" x="485.04" y="217.63" color="#8b0000"/><use href="#d" x="471.96" y="264.83" color="#2c7800"/><use href="#d" x="458.88" y="312.03" color="#00d400"/><use href="#d" x="445.8" y="359.23" color="#00d400"/><use href="#d" x="521.56" y="151.37" color="#a10043"/><use href="#d" x="508.48" y="198.57" color="#850015"/><use href="#d" x="495.4" y="245.77" color="#3e2500"/><use href="#d" x="482.32" y="292.97" color="#048a00"/><use href="#d" x="469.24" y="340.17" color="#00cd00"/><use href="#d" x="531.92" y="179.51" color="#820029"/><use href="#d" x="518.84" y="226.71" color="#4c0000"/><use href="#d" x="505.76" y="273.91" color="#154900"/><use href="#d" x="492.68" y="321.11" color="#009400"/><use href="#d" x="555.36" y="160.45" color="#810033"/><use href="#d" x="542.28" y="207.65" color="#5d0009"/><use href="#d" x="529.2" y="254.85" color="#231100"/><use href="#d" x="516.12" y="302.05" color="#005f00"/><use href="#d" x="503.04" y="349.25" color="#009a00"/><use href="#d" x="565.72" y="188.59" color="#66001c"/><use href="#d" x="552.64" y="235.79" color="#2f0000"/><use href="#d" x="539.56" y="282.99" color="#083000"/><use href="#d" x="526.48" y="330.19" color="#006e00"/><use href="#d" x="576.08" y="216.73" color="#450001"/><use href="#d" x="563" y="263.93" color="#140600"/><use href="#d" x="549.92" y="311.13" color="#004600"/><use href="#d" x="333.14" y="174.42" color="#d4b597"/><use href="#d" x="320.06" y="221.62" color="#d4d48e"/><use href="#d" x="356.58" y="155.36" color="#d48f8f"/><use href="#d" x="343.5" y="202.56" color="#d4d48b"/><use href="#d" x="330.42" y="249.76" color="#b6d478"/><use href="#d" x="380.02" y="136.3" color="#d46d88"/><use href="#d" x="366.94" y="183.5" color="#d4a782"/><use href="#d" x="353.86" y="230.7" color="#d4d475"/><use href="#d" x="340.78" y="277.9" color="#94d465"/><use href="#d" x="403.46" y="117.24" color="#d44c82"/><use href="#d" x="390.38" y="164.44" color="#d47b7b"/><use href="#d" x="377.3" y="211.64" color="#d4cf6d"/><use href="#d" x="364.22" y="258.84" color="#a8d45c"/><use href="#d" x="351.14" y="306.04" color="#76d455"/><use href="#d" x="413.82" y="145.38" color="#d45273"/><use href="#d" x="400.74" y="192.58" color="#d49263"/><use href="#d" x="387.66" y="239.78" color="#d0d44a"/><use href="#d" x="374.58" y="286.98" color="#80d448"/><use href="#d" x="437.26" y="126.32" color="#d42c6d"/><use href="#d" x="424.18" y="173.52" color="#d45b5b"/><use href="#d" x="411.1" y="220.72" color="#d4c035"/><use href="#d" x="398.02" y="267.92" color="#92d430"/><use href="#d" x="384.94" y="315.12" color="#5fd438"/><use href="#d" x="460.7" y="107.26" color="#d40a66"/><use href="#d" x="447.62" y="154.46" color="#d42a53"/><use href="#d" x="434.54" y="201.66" color="#d46d2c"/><use href="#d" x="421.46" y="248.86" color="#bed400"/><use href="#d" x="408.38" y="296.06" color="#63d41c"/><use href="#d" x="395.3" y="343.26" color="#44d42a"/><use href="#d" x="471.06" y="135.4" color="#d4004d"/><use href="#d" x="457.98" y="182.6" color="#d42525"/><use href="#d" x="444.9" y="229.8" color="#cf8f00"/><use href="#d" x="431.82" y="277" color="#6ad400"/><use href="#d" x="418.74" y="324.2" color="#3dd40d"/><use href="#d" x="494.5" y="116.34" color="#d40049"/><use href="#d" x="481.42" y="163.54" color="#d4001f"/><use href="#d" x="468.34" y="210.74" color="#d02e00"/><use href="#d" x="455.26" y="257.94" color="#749c00"/><use href="#d" x="442.18" y="305.14" color="#36d400"/><use href="#d" x="429.1" y="352.34" color="#1fd400"/><use href="#d" x="504.86" y="144.48" color="#d0002e"/><use href="#d" x="491.78" y="191.68" color="#d20000"/><use href="#d" x="478.7" y="238.88" color="#7d5300"/><use href="#d" x="465.62" y="286.08" color="#42a400"/><use href="#d" x="452.54" y="333.28" color="#16d400"/><use href="#d" x="515.22" y="172.62" color="#b2000c"/><use href="#d" x="502.14" y="219.82" color="#851500"/><use href="#d" x="489.06" y="267.02" color="#4c6900"/><use href="#d" x="475.98" y="314.22" color="#22a800"/><use href="#d" x="538.66" y="153.56" color="#a4001f"/><use href="#d" x="525.58" y="200.76" color="#8b0000"/><use href="#d" x="512.5" y="247.96" color="#553600"/><use href="#d" x="499.42" y="295.16" color="#2c7800"/><use href="#d" x="486.34" y="342.36" color="#0bac00"/><use href="#d" x="549.02" y="181.7" color="#870003"/><use href="#d" x="535.94" y="228.9" color="#5d0900"/><use href="#d" x="522.86" y="276.1" color="#354c00"/><use href="#d" x="509.78" y="323.3" color="#158200"/><use href="#d" x="559.38" y="209.84" color="#640000"/><use href="#d" x="546.3" y="257.04" color="#3e2500"/><use href="#d" x="533.22" y="304.24" color="#1e5c00"/><use href="#d" x="569.74" y="237.98" color="#450100"/><use href="#d" x="556.66" y="285.18" color="#263900"/><use href="#d" x="350.24" y="176.61" color="#d4ac72"/><use href="#d" x="337.16" y="223.81" color="#d4d465"/><use href="#d" x="373.68" y="157.55" color="#d4886d"/><use href="#d" x="360.6" y="204.75" color="#d4cb5e"/><use href="#d" x="347.52" y="251.95" color="#bfd452"/><use href="#d" x="397.12" y="138.49" color="#d46767"/><use href="#d" x="384.04" y="185.69" color="#d49d58"/><use href="#d" x="370.96" y="232.89" color="#d4d43f"/><use href="#d" x="357.88" y="280.09" color="#9ad441"/><use href="#d" x="420.56" y="119.43" color="#d44862"/><use href="#d" x="407.48" y="166.63" color="#d47352"/><use href="#d" x="394.4" y="213.83" color="#d4c035"/><use href="#d" x="381.32" y="261.03" color="#b2d42b"/><use href="#d" x="368.24" y="308.23" color="#7cd433"/><use href="#d" x="430.92" y="147.57" color="#d44c4c"/><use href="#d" x="417.84" y="194.77" color="#d4872f"/><use href="#d" x="404.76" y="241.97" color="#d4d400"/><use href="#d" x="391.68" y="289.17" color="#87d41b"/><use href="#d" x="454.36" y="128.51" color="#d42947"/><use href="#d" x="441.28" y="175.71" color="#d4532a"/><use href="#d" x="428.2" y="222.91" color="#d4ad00"/><use href="#d" x="415.12" y="270.11" color="#9ed400"/><use href="#d" x="402.04" y="317.31" color="#64d40e"/><use href="#d" x="464.72" y="156.65" color="#d42525"/><use href="#d" x="451.64" y="203.85" color="#d46100"/><use href="#d" x="438.56" y="251.05" color="#a7b600"/><use href="#d" x="425.48" y="298.25" color="#6ad400"/><use href="#d" x="488.16" y="137.59" color="#d40021"/><use href="#d" x="475.08" y="184.79" color="#d41f00"/><use href="#d" x="462" y="231.99" color="#ab7500"/><use href="#d" x="448.92" y="279.19" color="#71b700"/><use href="#d" x="435.84" y="326.39" color="#44d400"/><use href="#d" x="498.52" y="165.73" color="#d40000"/><use href="#d" x="485.44" y="212.93" color="#af3d00"/><use href="#d" x="472.36" y="260.13" color="#788200"/><use href="#d" x="459.28" y="307.33" color="#4cb900"/><use href="#d" x="521.96" y="146.67" color="#d10005"/><use href="#d" x="508.88" y="193.87" color="#b20c00"/><use href="#d" x="495.8" y="241.07" color="#7d5300"/><use href="#d" x="482.72" y="288.27" color="#548c00"/><use href="#d" x="469.64" y="335.47" color="#32b900"/><use href="#d" x="532.32" y="174.81" color="#b50000"/><use href="#d" x="519.24" y="222.01" color="#822900"/><use href="#d" x="506.16" y="269.21" color="#5a6300"/><use href="#d" x="493.08" y="316.41" color="#399200"/><use href="#d" x="542.68" y="202.95" color="#870300"/><use href="#d" x="529.6" y="250.15" color="#603e00"/><use href="#d" x="516.52" y="297.35" color="#406f00"/><use href="#d" x="553.04" y="231.09" color="#661c00"/><use href="#d" x="539.96" y="278.29" color="#464e00"/><use href="#d" x="367.34" y="178.8" color="#d4a451"/><use href="#d" x="354.26" y="226" color="#d4d43a"/><use href="#d" x="390.78" y="159.74" color="#d4824c"/><use href="#d" x="377.7" y="206.94" color="#d4c035"/><use href="#d" x="364.62" y="254.14" color="#c8d428"/><use href="#d" x="414.22" y="140.68" color="#d46248"/><use href="#d" x="401.14" y="187.88" color="#d49530"/><use href="#d" x="388.06" y="235.08" color="#d4d406"/><use href="#d" x="374.98" y="282.28" color="#a2d41a"/><use href="#d" x="424.58" y="168.82" color="#d46d2c"/><use href="#d" x="411.5" y="216.02" color="#d4b303"/><use href="#d" x="398.42" y="263.22" color="#bed400"/><use href="#d" x="448.02" y="149.76" color="#d44729"/><use href="#d" x="434.94" y="196.96" color="#d47d00"/><use href="#d" x="421.86" y="244.16" color="#cdc900"/><use href="#d" x="408.78" y="291.36" color="#8fd400"/><use href="#d" x="458.38" y="177.9" color="#d44d00"/><use href="#d" x="445.3" y="225.1" color="#cf8f00"/><use href="#d" x="432.22" y="272.3" color="#96c700"/><use href="#d" x="481.82" y="158.84" color="#d42100"/><use href="#d" x="468.74" y="206.04" color="#d05b00"/><use href="#d" x="455.66" y="253.24" color="#9a9700"/><use href="#d" x="442.58" y="300.44" color="#6fc600"/><use href="#d" x="492.18" y="186.98" color="#d02e00"/><use href="#d" x="479.1" y="234.18" color="#9e6b00"/><use href="#d" x="466.02" y="281.38" color="#749c00"/><use href="#d" x="515.62" y="167.92" color="#d10500"/><use href="#d" x="502.54" y="215.12" color="#a14300"/><use href="#d" x="489.46" y="262.32" color="#797600"/><use href="#d" x="476.38" y="309.52" color="#58a000"/><use href="#d" x="525.98" y="196.06" color="#a41f00"/><use href="#d" x="512.9" y="243.26" color="#7d5300"/><use href="#d" x="499.82" y="290.46" color="#5d7f00"/><use href="#d" x="536.34" y="224.2" color="#813300"/><use href="#d" x="523.26" y="271.4" color="#625f00"/><use href="#d" x="394.8" y="209.13" color="#d4b60f"/><use href="#d" x="418.24" y="190.07" color="#d48d0c"/><use href="#d" x="405.16" y="237.27" color="#d4d400"/><use href="#d" x="441.68" y="171.01" color="#d4660a"/><use href="#d" x="428.6" y="218.21" color="#d4a300"/><use href="#d" x="415.52" y="265.41" color="#b4d400"/><use href="#d" x="452.04" y="199.15" color="#d47400"/><use href="#d" x="438.96" y="246.35" color="#b6a700"/><use href="#d" x="475.48" y="180.09" color="#d44900"/><use href="#d" x="462.4" y="227.29" color="#b87e00"/><use href="#d" x="449.32" y="274.49" color="#90aa00"/><use href="#d" x="485.84" y="208.23" color="#ba5900"/><use href="#d" x="472.76" y="255.43" color="#938600"/><use href="#d" x="496.2" y="236.37" color="#966500"/><circle cx="444.5" cy="234.5" r="2.6" fill="#eee"/><circle cx="444.5" cy="234.5" r="1.7" fill="#000"/><path d="M447 235.3L459.5 237L459 239z" fill="#000"/><path d="M88.7 422.2L84.9 438.81" stroke="#ff6347" stroke-width="1.3"/><path d="M83.9 443.2L82.76 438.32L87.05 439.3z" fill="#ff6347"/><path d="M88.7 422.2L92.66 409.5" stroke="#3cb371" stroke-width="1.3"/><path d="M94 405.2L94.76 410.15L90.56 408.84z" fill="#3cb371"/><path d="M88.7 422.2L112.35 428.45" stroke="#0000ff" stroke-width="1.3"/><path d="M116.7 429.6L111.79 430.58L112.91 426.32z" fill="#0000ff"/><text x="96.3" y="403.2" font-family="Liberation Sans, sans-serif" font-size="10.5" font-weight="bold" font-style="italic" fill="#000">b*</text><text x="114.8" y="424.2" font-family="Liberation Sans, sans-serif" font-size="10.5" font-weight="bold" font-style="italic" fill="#000">c*</text><text x="87.6" y="435.2" font-family="Liberation Sans, sans-serif" font-size="10.5" font-weight="bold" font-style="italic" fill="#000">a*</text></svg>
<div class="a " style="left:23px;top:660px;width:123px;height:26px;background:#b5b8bd;border-radius:4px 4px 0 0;"></div>
<div class="a " style="left:23px;top:683px;width:123px;height:3px;background:#33a9fc;"></div>
<span id="t29" class="t" style="left:27.2px;top:663px;letter-spacing:0.15px;">Lattice Parameters</span>
<div class="a " style="left:148px;top:662px;width:127px;height:22px;background:#c0c3c8;border-radius:4px 4px 0 0;"></div>
<span id="t30" class="t" style="left:152px;top:664px;letter-spacing:0.28px;">Sample Orientation</span>
<div class="a " style="left:21px;top:686px;width:887px;height:84px;border:1px solid #c2c5ca;border-radius:4px;"></div>
<span id="t31" class="t" style="left:39px;top:703px;letter-spacing:0.4px;">a:</span>
<span id="t32" class="t" style="left:39px;top:735px;letter-spacing:0.4px;">α:</span>
<div class="a " style="left:63px;top:699px;width:244px;height:24px;background:#fcfcfc;border:1px solid #c2c5ca;border-radius:4px;"></div>
<span id="t33" class="t" style="left:70px;top:703px;letter-spacing:0.02px;">5.44006</span>
<div class="a " style="left:63px;top:731px;width:244px;height:24px;background:#fcfcfc;border:1px solid #c2c5ca;border-radius:4px;"></div>
<span id="t34" class="t" style="left:70px;top:735px;letter-spacing:0.01px;">90.000</span>
<span id="t35" class="t" style="left:320px;top:703px;letter-spacing:0.4px;">b:</span>
<span id="t36" class="t" style="left:320px;top:735px;letter-spacing:0.4px;">β:</span>
<div class="a " style="left:344px;top:699px;width:244px;height:24px;background:#fcfcfc;border:1px solid #c2c5ca;border-radius:4px;"></div>
<span id="t37" class="t" style="left:351px;top:703px;letter-spacing:0.02px;">5.44006</span>
<div class="a " style="left:344px;top:731px;width:244px;height:24px;background:#fcfcfc;border:1px solid #c2c5ca;border-radius:4px;"></div>
<span id="t38" class="t" style="left:351px;top:735px;letter-spacing:0.01px;">90.000</span>
<span id="t39" class="t" style="left:600.5px;top:703px;letter-spacing:0.4px;">c:</span>
<span id="t40" class="t" style="left:600.5px;top:735px;letter-spacing:0.4px;">γ:</span>
<div class="a " style="left:624px;top:699px;width:244px;height:24px;background:#fcfcfc;border:1px solid #c2c5ca;border-radius:4px;"></div>
<span id="t41" class="t" style="left:631px;top:703px;letter-spacing:0.02px;">5.44006</span>
<div class="a " style="left:624px;top:731px;width:244px;height:24px;background:#fcfcfc;border:1px solid #c2c5ca;border-radius:4px;"></div>
<span id="t42" class="t" style="left:631px;top:735px;letter-spacing:0.01px;">90.000</span>
<span id="t43" class="t" style="left:881px;top:703px;letter-spacing:0.4px;">Å</span>
<span id="t44" class="t" style="left:881px;top:735px;letter-spacing:0.4px;">°</span>
<div class="a " style="left:21px;top:778px;width:887px;height:190px;border:1px solid #c2c5ca;border-radius:4px;"></div>
<span id="t45" class="t" style="left:28px;top:779px;font-size:14px;font-family:'Liberation Mono','DejaVu Sans Mono',monospace;letter-spacing:-0.01px;">CountReflections started</span>
<span id="t46" class="t" style="left:28px;top:796px;font-size:14px;font-family:'Liberation Mono','DejaVu Sans Mono',monospace;letter-spacing:-0px;">CountReflections successful, Duration 0.00 seconds</span>
<span id="t47" class="t" style="left:28px;top:813px;font-size:14px;font-family:'Liberation Mono','DejaVu Sans Mono',monospace;letter-spacing:-0.01px;">CountReflections started</span>
<span id="t48" class="t" style="left:28px;top:830px;font-size:14px;font-family:'Liberation Mono','DejaVu Sans Mono',monospace;letter-spacing:-0px;">CountReflections successful, Duration 0.00 seconds</span>
<span id="t49" class="t" style="left:28px;top:847px;font-size:14px;font-family:'Liberation Mono','DejaVu Sans Mono',monospace;letter-spacing:-0.01px;">CountReflections started</span>
<span id="t50" class="t" style="left:28px;top:864px;font-size:14px;font-family:'Liberation Mono','DejaVu Sans Mono',monospace;letter-spacing:-0px;">CountReflections successful, Duration 0.00 seconds</span>
<span id="t51" class="t" style="left:28px;top:881px;font-size:14px;font-family:'Liberation Mono','DejaVu Sans Mono',monospace;letter-spacing:-0.01px;">CountReflections started</span>
<span id="t52" class="t" style="left:28px;top:898px;font-size:14px;font-family:'Liberation Mono','DejaVu Sans Mono',monospace;letter-spacing:-0px;">CountReflections successful, Duration 0.00 seconds</span>
<span id="t53" class="t" style="left:28px;top:915px;font-size:14px;font-family:'Liberation Mono','DejaVu Sans Mono',monospace;letter-spacing:-0.01px;">CloneWorkspace started</span>
<span id="t54" class="t" style="left:28px;top:932px;font-size:14px;font-family:'Liberation Mono','DejaVu Sans Mono',monospace;letter-spacing:-0px;">CloneWorkspace successful, Duration 0.00 seconds</span>
<svg class="a" style="left:894px;top:787px;" width="11" height="6" viewBox="0 0 11 6"><path d="M0.5 5.5L5.5 0.8 10.5 5.5z" fill="#b9bcc2"/></svg>
<div class="a " style="left:893.5px;top:797px;width:9px;height:151px;background:#fafafa;border:1px solid #b9bcc2;border-radius:5px;"></div>
<div class="a " style="left:893.5px;top:940px;width:11px;height:10px;background:#aeb1b7;border-radius:5px;"></div>
<svg class="a" style="left:894px;top:955px;" width="11" height="6" viewBox="0 0 11 6"><path d="M0.5 0.5h10L5.5 5.2z" fill="#b9bcc2"/></svg>
<div class="a " style="left:21px;top:976px;width:889px;height:33px;background:#c0c3c8;"></div>
<span id="t55" class="t" style="left:27px;top:984px;letter-spacing:0.07px;">Data visualized!</span>
<div class="a " style="left:458px;top:980px;width:432px;height:26px;background:#fafafa;border-radius:3px;"></div>
<span id="t56" class="t" style="left:658px;top:984px;letter-spacing:0.28px;">Done</span>
<svg class="a" style="left:896px;top:995px;" width="13" height="13" viewBox="0 0 13 13"><path d="M12.5 2L2 12.5M12.5 6L6 12.5M12.5 10L10 12.5" stroke="#555" stroke-width="1" fill="none"/></svg>
<div class="a " style="left:918px;top:53px;width:66px;height:26px;background:#b5b8bd;border-radius:4px 4px 0 0;"></div>
<div class="a " style="left:918px;top:76px;width:66px;height:3px;background:#33a9fc;"></div>
<span id="t57" class="t" style="left:922.2px;top:56px;letter-spacing:-0.06px;">Coverage</span>
<div class="a " style="left:986px;top:55px;width:44px;height:22px;background:#c0c3c8;border-radius:4px 4px 0 0;"></div>
<span id="t58" class="t" style="left:990px;top:57px;letter-spacing:-0.34px;">Peaks</span>
<div class="a " style="left:1032px;top:55px;width:42px;height:22px;background:#c0c3c8;border-radius:4px 4px 0 0;"></div>
<span id="t59" class="t" style="left:1036.2px;top:57px;letter-spacing:0.3px;">Mesh</span>
<div class="a " style="left:916px;top:79px;width:827px;height:928px;border:1px solid #c2c5ca;border-radius:4px;"></div>
<div class="a " style="left:929px;top:95px;width:91px;height:22px;background:#c0c3c8;border-radius:4px;"></div>
<svg class="a" style="left:937px;top:98.5px" width="17" height="14" viewBox="0 0 18 14" fill="#000" preserveAspectRatio="none"><path d="M1.6 0.6h4.2l1.7 1.7h6.1a1.3 1.3 0 0 1 1.3 1.3v1.2H5.2a2 2 0 0 0-1.8 1.1L.4 11.6V1.8A1.2 1.2 0 0 1 1.6.6zM5.3 5.9h11.6a.8.8 0 0 1 .7 1.2l-2.9 5.6a1.3 1.3 0 0 1-1.1.7H1.3z"/></svg>
<span id="t60" class="t" style="left:956.3px;top:97px;letter-spacing:-0.13px;">Load UB</span>
<div class="a " style="left:1026px;top:92px;width:208px;height:27px;background:#ffff00;border:1px solid #c2c5ca;border-radius:4px;"></div>
<div class="a " style="left:1222px;top:93px;width:1px;height:27px;background:#c2c5ca;"></div>
<svg class="a" style="left:1225px;top:103.5px;" width="8" height="5" viewBox="0 0 8 5"><path d="M0.3 0.5h7.4L4 4.6z" fill="#c9c93a"/></svg>
<div class="a " style="left:1033.5px;top:104px;width:11px;height:2px;background:#000;"></div>
<span id="t61" class="t" style="left:1053.3px;top:98px;letter-spacing:-0.14px;">Cubic</span>
<div class="a " style="left:1242px;top:92px;width:98px;height:27px;background:#ffff00;border:1px solid #c2c5ca;border-radius:4px;"></div>
<div class="a " style="left:1328px;top:93px;width:1px;height:27px;background:#c2c5ca;"></div>
<svg class="a" style="left:1331px;top:103.5px;" width="8" height="5" viewBox="0 0 8 5"><path d="M0.3 0.5h7.4L4 4.6z" fill="#c9c93a"/></svg>
<div class="a " style="left:1249px;top:104px;width:11px;height:2px;background:#000;"></div>
<span id="t62" class="t" style="left:1269px;top:98px;letter-spacing:0.61px;">m-3m</span>
<div class="a " style="left:1348px;top:92px;width:88px;height:27px;background:#ffff00;border:1px solid #c2c5ca;border-radius:4px;"></div>
<div class="a " style="left:1424px;top:93px;width:1px;height:27px;background:#c2c5ca;"></div>
<svg class="a" style="left:1427px;top:103.5px;" width="8" height="5" viewBox="0 0 8 5"><path d="M0.3 0.5h7.4L4 4.6z" fill="#c9c93a"/></svg>
<div class="a " style="left:1355.5px;top:104px;width:11px;height:2px;background:#000;"></div>
<span id="t63" class="t" style="left:1375px;top:98px;">F</span>
<div class="a " style="left:1444px;top:95px;width:154px;height:22px;background:#c0c3c8;border-radius:4px;"></div>
<svg class="a" style="left:1448.5px;top:99px" width="11" height="13.6" viewBox="0 0 12 16" fill="#000" preserveAspectRatio="none"><path d="M1.600 0h8.800A1.600 1.600 0 0 1 12 1.600v12.800A1.600 1.600 0 0 1 10.400 16H1.600A1.600 1.600 0 0 1 0 14.400V1.600A1.600 1.600 0 0 1 1.600 0zM2 2v3.200h8V2zM2 7h2v1.800H2zM5 7h2v1.800H5zM8 7h2v1.800H8zM2 9.900h2v1.800H2zM5 9.900h2v1.800H5zM8 9.900h2v1.800H8zM2 12.700h5v1.700H2zM8 12.700h2v1.700H8z" fill-rule="evenodd"/></svg>
<span id="t64" class="t" style="left:1464.2px;top:97px;letter-spacing:-0.06px;">Recalculate Coverage</span>
<div class="a " style="left:1604px;top:95px;width:128px;height:22px;background:#c0c3c8;border-radius:4px;"></div>
<svg class="a" style="left:1606px;top:98.5px" width="16.5" height="14" viewBox="0 0 18 14" fill="#000" preserveAspectRatio="none"><path d="M1.6 0.6h4.2l1.7 1.7h6.1a1.3 1.3 0 0 1 1.3 1.3v1.2H5.2a2 2 0 0 0-1.8 1.1L.4 11.6V1.8A1.2 1.2 0 0 1 1.6.6zM5.3 5.9h11.6a.8.8 0 0 1 .7 1.2l-2.9 5.6a1.3 1.3 0 0 1-1.1.7H1.3z"/></svg>
<span id="t65" class="t" style="left:1624.2px;top:97px;letter-spacing:0.18px;">Load Experiment</span>
<div class="a " style="left:929px;top:127px;width:118px;height:27px;background:#fcfcfc;border:1px solid #c2c5ca;border-radius:4px;"></div>
<div class="a " style="left:1035px;top:128px;width:1px;height:27px;background:#c2c5ca;"></div>
<svg class="a" style="left:1038px;top:138.5px;" width="8" height="5" viewBox="0 0 8 5"><path d="M0.3 0.5h7.4L4 4.6z" fill="#b9bcc2"/></svg>
<svg class="a" style="left:934.9px;top:134.4px" width="14.3" height="12.9" viewBox="0 0 16 14" fill="#000" preserveAspectRatio="none"><path d="M3.300 0h9.400L16 4.500 8 14 0 4.500zM4 1.600L2.300 4l2.900 1L7.400 2.800zM12 1.600L8.600 2.800 10.800 5l2.900-1z" fill-rule="evenodd"/></svg>
<span id="t66" class="t" style="left:956px;top:133px;letter-spacing:-0.73px;">TOPAZ</span>
<span id="t67" class="t" style="left:1059.5px;top:133px;letter-spacing:0.4px;">λ:</span>
<div class="a " style="left:1083px;top:128px;width:83px;height:24px;background:#fcfcfc;border:1px solid #c2c5ca;border-radius:4px;"></div>
<span id="t68" class="t" style="left:1090px;top:132px;letter-spacing:-0.02px;">0.4</span>
<div class="a " style="left:1174px;top:128px;width:84px;height:24px;background:#fcfcfc;border:1px solid #c2c5ca;border-radius:4px;"></div>
<span id="t69" class="t" style="left:1181.3px;top:132px;letter-spacing:-0.17px;">3.5</span>
<span id="t70" class="t" style="left:1270.7px;top:133px;letter-spacing:0.3px;">d(min):</span>
<div class="a " style="left:1326px;top:128px;width:83px;height:24px;background:#fcfcfc;border:1px solid #c2c5ca;border-radius:4px;"></div>
<span id="t71" class="t" style="left:1332.6px;top:132px;letter-spacing:0.18px;">0.7</span>
<span id="t72" class="t" style="left:1421.5px;top:133px;letter-spacing:0.4px;">Å</span>
<div class="a " style="left:1444px;top:130px;width:154px;height:22px;background:#c0c3c8;border-radius:4px;"></div>
<svg class="a" style="left:1457.8px;top:135.4px" width="15.7" height="11.8" viewBox="0 0 18 13" fill="#000" preserveAspectRatio="none"><path d="M9 0C4.600 0 1.200 3.100 0 6.500 1.200 9.900 4.600 13 9 13s7.800-3.100 9-6.500C16.800 3.100 13.400 0 9 0zM9 2a4.500 4.500 0 1 1-.010 0zM9 3.800A2.700 2.700 0 1 0 11.700 6.500 1.700 1.700 0 0 1 9 3.800z" fill-rule="evenodd"/></svg>
<span id="t73" class="t" style="left:1476px;top:132px;letter-spacing:0.4px;">Show Instrument</span>
<div class="a " style="left:1604px;top:130px;width:128px;height:22px;background:#c0c3c8;border-radius:4px;"></div>
<svg class="a" style="left:1608.8px;top:134.8px" width="12.2" height="12" viewBox="0 0 14 14" fill="#000" preserveAspectRatio="none"><path d="M1.500 0h8.800L14 3.700v8.800A1.500 1.500 0 0 1 12.500 14H1.500A1.500 1.500 0 0 1 0 12.500V1.500A1.500 1.500 0 0 1 1.500 0zM2 2v3.500h7.500V2zM7 7.700a2.150 2.150 0 1 0 .010 0z" fill-rule="evenodd"/></svg>
<span id="t74" class="t" style="left:1625.2px;top:132px;letter-spacing:0.06px;">Save Experiment</span>
<div class="a " style="left:931px;top:164px;width:88px;height:22px;background:#c0c3c8;border-radius:4px 4px 0 0;"></div>
<span id="t75" class="t" style="left:935.2px;top:166px;letter-spacing:0.32px;">Goniometers</span>
<div class="a " style="left:1021px;top:164px;width:124px;height:22px;background:#c0c3c8;border-radius:4px 4px 0 0;"></div>
<span id="t76" class="t" style="left:1025.3px;top:166px;letter-spacing:0.42px;">Calibration/Motors</span>
<div class="a " style="left:1147px;top:162px;width:35px;height:26px;background:#b5b8bd;border-radius:4px 4px 0 0;"></div>
<div class="a " style="left:1147px;top:185px;width:35px;height:3px;background:#33a9fc;"></div>
<span id="t77" class="t" style="left:1151px;top:165px;letter-spacing:-0.06px;">Plan</span>
<div class="a " style="left:929px;top:188px;width:801px;height:270px;border:1px solid #c2c5ca;border-radius:4px;"></div>
<div class="a " style="left:942px;top:202px;width:118px;height:24px;background:#fcfcfc;border:1px solid #c2c5ca;border-radius:4px;"></div>
<span id="t78" class="t" style="left:949px;top:206px;letter-spacing:-0.07px;">Scan Title</span>
<div class="a " style="left:1068px;top:201px;width:184px;height:27px;background:#fcfcfc;border:1px solid #c2c5ca;border-radius:4px;"></div>
<div class="a " style="left:1240px;top:202px;width:1px;height:27px;background:#c2c5ca;"></div>
<svg class="a" style="left:1243px;top:212.5px;" width="8" height="5" viewBox="0 0 8 5"><path d="M0.3 0.5h7.4L4 4.6z" fill="#b9bcc2"/></svg>
<div class="a " style="left:1075px;top:214px;width:11px;height:2px;background:#000;"></div>
<span id="t79" class="t" style="left:1095.2px;top:207px;letter-spacing:-0.21px;">BL12:Det:PCharge:C</span>
<div class="a " style="left:1260px;top:202px;width:118px;height:24px;background:#fcfcfc;border:1px solid #c2c5ca;border-radius:4px;"></div>
<span id="t80" class="t" style="left:1267.5px;top:206px;letter-spacing:-0.37px;">1.0</span>
<span id="t81" class="t" style="left:1391px;top:207px;letter-spacing:0.2px;">Settings</span>
<div class="a " style="left:1453px;top:202px;width:118px;height:24px;background:#ffff00;border:1px solid #c2c5ca;border-radius:4px;"></div>
<span id="t82" class="t" style="left:1460.3px;top:206px;">3</span>
<div class="a " style="left:1579px;top:204px;width:140px;height:22px;background:#008000;border-radius:4px;box-shadow:0 0 0 1px #fff;"></div>
<svg class="a" style="left:1581px;top:207px;" width="16" height="16" viewBox="0 0 16 16"><path d="M2.300 12.300L12.900 2.500" stroke="#000" stroke-width="3.500" stroke-linecap="round"/><path d="M10.300 5L12.300 3.150" stroke="#008000" stroke-width="0.900" stroke-linecap="round"/><path d="M2.3 2.1Q2.3 4.4 4.6 4.4Q2.3 4.4 2.3 6.7Q2.3 4.4 0 4.4Q2.3 4.4 2.3 2.1zM12.5 8.9Q12.5 11.4 15 11.4Q12.5 11.4 12.5 13.9Q12.5 11.4 10 11.4Q12.5 11.4 12.5 8.9z" fill="#000" stroke="#000" stroke-width="0.500"/><ellipse cx="6.800" cy="2.300" rx="1.100" ry="0.800" fill="#000"/></svg>
<span id="t83" class="t" style="left:1599.2px;top:206px;letter-spacing:0.08px;">Optimize Coverage</span>
<div class="a " style="left:942px;top:236px;width:775px;height:181px;border:1px solid #c2c5ca;border-radius:4px;"></div>
<div class="a " style="left:966px;top:239px;width:107.5px;height:21.6px;background:#c0c3c8;"></div>
<div class="a " style="left:1074.5px;top:239px;width:106px;height:21.6px;background:#c0c3c8;"></div>
<div class="a " style="left:1181.5px;top:239px;width:106px;height:21.6px;background:#c0c3c8;"></div>
<div class="a " style="left:1288.5px;top:239px;width:106px;height:21.6px;background:#c0c3c8;"></div>
<div class="a " style="left:1395.5px;top:239px;width:106px;height:21.6px;background:#c0c3c8;"></div>
<div class="a " style="left:1502.5px;top:239px;width:106px;height:21.6px;background:#c0c3c8;"></div>
<div class="a " style="left:1609.5px;top:239px;width:106px;height:21.6px;background:#c0c3c8;"></div>
<span id="t84" class="t" style="left:970.7px;top:241px;letter-spacing:-0.13px;">12:CS:RunInfo:Ti</span>
<div class="a" style="left:1078px;top:239px;width:99.500px;height:21.600px;overflow:hidden"><span class="t" style="left:0.600px;top:2px;letter-spacing:0.450px">:Mot:goniokm:om</span></div>
<span id="t85" class="t" style="left:1188.7px;top:241px;letter-spacing:0.38px;">2:Mot:goniokm:</span>
<span id="t86" class="t" style="left:1312px;top:241px;letter-spacing:0.52px;">Comment</span>
<span id="t87" class="t" style="left:1423.4px;top:241px;letter-spacing:0.11px;">Wait For</span>
<span id="t88" class="t" style="left:1538.4px;top:241px;letter-spacing:0.3px;">Value</span>
<span id="t89" class="t" style="left:1651.2px;top:241px;letter-spacing:-0.15px;">Use</span>
<div class="a " style="left:945px;top:261.2px;width:21px;height:30px;background:#c0c3c8;border-radius:0;"></div>
<span id="t90" class="t" style="left:949.5px;top:268px;letter-spacing:0.4px;">1</span>
<div class="a " style="left:945px;top:292.7px;width:21px;height:29.5px;background:#c0c3c8;border-radius:0;"></div>
<span id="t91" class="t" style="left:949.5px;top:299px;letter-spacing:0.4px;">2</span>
<div class="a " style="left:945px;top:323.7px;width:21px;height:29.5px;background:#c0c3c8;border-radius:0;"></div>
<span id="t92" class="t" style="left:949.5px;top:330px;letter-spacing:0.4px;">3</span>
<div class="a " style="left:945px;top:354.7px;width:21px;height:60.9px;background:#c0c3c8;border-radius:0 0 4px 4px;"></div>
<span id="t93" class="t" style="left:949.5px;top:361px;letter-spacing:0.4px;">4</span>
<div class="a " style="left:966px;top:291px;width:750px;height:1px;background:#c6c9cd;"></div>
<div class="a " style="left:966px;top:322px;width:750px;height:1px;background:#c6c9cd;"></div>
<div class="a " style="left:966px;top:353px;width:750px;height:1px;background:#c6c9cd;"></div>
<div class="a " style="left:966px;top:384px;width:750px;height:1px;background:#c6c9cd;"></div>
<div class="a " style="left:1073px;top:261px;width:1px;height:124px;background:#c6c9cd;"></div>
<div class="a " style="left:1180px;top:261px;width:1px;height:124px;background:#c6c9cd;"></div>
<div class="a " style="left:1287px;top:261px;width:1px;height:124px;background:#c6c9cd;"></div>
<div class="a " style="left:1394px;top:261px;width:1px;height:124px;background:#c6c9cd;"></div>
<div class="a " style="left:1501px;top:261px;width:1px;height:124px;background:#c6c9cd;"></div>
<div class="a " style="left:1608px;top:261px;width:1px;height:124px;background:#c6c9cd;"></div>
<div class="a " style="left:1715px;top:261px;width:1px;height:124px;background:#c6c9cd;"></div>
<span id="t94" class="t" style="left:968.8px;top:267px;letter-spacing:-0.07px;">Scan Title</span>
<span id="t95" class="t" style="left:1076.7px;top:267px;letter-spacing:0.08px;">66.0</span>
<span id="t96" class="t" style="left:1183.8px;top:267px;letter-spacing:-0.01px;">150.0</span>
<span id="t97" class="t" style="left:1290.6px;top:267px;letter-spacing:-0.07px;">#(4.0, 0.0, 0.0)</span>
<div class="a " style="left:1395px;top:261px;width:104px;height:28px;background:#fcfcfc;border:1px solid #c2c5ca;border-radius:4px;"></div>
<div class="a " style="left:1487px;top:262px;width:1px;height:28px;background:#c2c5ca;"></div>
<svg class="a" style="left:1490px;top:273.5px;" width="8" height="5" viewBox="0 0 8 5"><path d="M0.3 0.5h7.4L4 4.6z" fill="#b9bcc2"/></svg>
<span id="t98" class="t" style="left:1400px;top:267px;letter-spacing:-0.23px;">BL12:Det:PCh</span>
<span id="t99" class="t" style="left:1505.5px;top:267px;letter-spacing:-0.12px;">1.000</span>
<div class="a " style="left:1613px;top:270px;width:10px;height:10px;background:#fcfcfc;border:1px solid #3c4350;border-radius:2px;"></div>
<svg class="a" style="left:1614.5px;top:271.5px;" width="9" height="9" viewBox="0 0 10 10"><path d="M1.700 5.300L4.100 7.800 8.300 2" fill="none" stroke="#1c2430" stroke-width="2"/></svg>
<span id="t100" class="t" style="left:968.8px;top:298px;letter-spacing:-0.07px;">Scan Title</span>
<span id="t101" class="t" style="left:1076.7px;top:298px;letter-spacing:-0.07px;">1.9</span>
<span id="t102" class="t" style="left:1183.8px;top:298px;letter-spacing:-0.01px;">107.7</span>
<span id="t103" class="t" style="left:1290.6px;top:298px;letter-spacing:0.02px;">CrystalPlan</span>
<div class="a " style="left:1395px;top:292px;width:104px;height:28px;background:#fcfcfc;border:1px solid #c2c5ca;border-radius:4px;"></div>
<div class="a " style="left:1487px;top:293px;width:1px;height:28px;background:#c2c5ca;"></div>
<svg class="a" style="left:1490px;top:304.5px;" width="8" height="5" viewBox="0 0 8 5"><path d="M0.3 0.5h7.4L4 4.6z" fill="#b9bcc2"/></svg>
<span id="t104" class="t" style="left:1400px;top:298px;letter-spacing:-0.23px;">BL12:Det:PCh</span>
<span id="t105" class="t" style="left:1505.5px;top:298px;letter-spacing:-0.12px;">1.000</span>
<div class="a " style="left:1613px;top:301px;width:10px;height:10px;background:#fcfcfc;border:1px solid #3c4350;border-radius:2px;"></div>
<svg class="a" style="left:1614.5px;top:302.5px;" width="9" height="9" viewBox="0 0 10 10"><path d="M1.700 5.300L4.100 7.800 8.300 2" fill="none" stroke="#1c2430" stroke-width="2"/></svg>
<span id="t106" class="t" style="left:968.8px;top:329px;letter-spacing:-0.07px;">Scan Title</span>
<span id="t107" class="t" style="left:1076.7px;top:329px;letter-spacing:0px;">-79.2</span>
<span id="t108" class="t" style="left:1183.8px;top:329px;letter-spacing:0.08px;">72.8</span>
<span id="t109" class="t" style="left:1290.6px;top:329px;letter-spacing:0.02px;">CrystalPlan</span>
<div class="a " style="left:1395px;top:323px;width:104px;height:28px;background:#fcfcfc;border:1px solid #c2c5ca;border-radius:4px;"></div>
<div class="a " style="left:1487px;top:324px;width:1px;height:28px;background:#c2c5ca;"></div>
<svg class="a" style="left:1490px;top:335.5px;" width="8" height="5" viewBox="0 0 8 5"><path d="M0.3 0.5h7.4L4 4.6z" fill="#b9bcc2"/></svg>
<span id="t110" class="t" style="left:1400px;top:329px;letter-spacing:-0.23px;">BL12:Det:PCh</span>
<span id="t111" class="t" style="left:1505.5px;top:329px;letter-spacing:-0.12px;">1.000</span>
<div class="a " style="left:1613px;top:332px;width:10px;height:10px;background:#fcfcfc;border:1px solid #3c4350;border-radius:2px;"></div>
<svg class="a" style="left:1614.5px;top:333.5px;" width="9" height="9" viewBox="0 0 10 10"><path d="M1.700 5.300L4.100 7.800 8.300 2" fill="none" stroke="#1c2430" stroke-width="2"/></svg>
<span id="t112" class="t" style="left:968.8px;top:360px;letter-spacing:-0.07px;">Scan Title</span>
<span id="t113" class="t" style="left:1076.7px;top:360px;letter-spacing:0.08px;">52.4</span>
<span id="t114" class="t" style="left:1183.8px;top:360px;letter-spacing:-0.08px;">-127.7</span>
<span id="t115" class="t" style="left:1290.6px;top:360px;letter-spacing:0.02px;">CrystalPlan</span>
<div class="a " style="left:1395px;top:354px;width:104px;height:28px;background:#fcfcfc;border:1px solid #c2c5ca;border-radius:4px;"></div>
<div class="a " style="left:1487px;top:355px;width:1px;height:28px;background:#c2c5ca;"></div>
<svg class="a" style="left:1490px;top:366.5px;" width="8" height="5" viewBox="0 0 8 5"><path d="M0.3 0.5h7.4L4 4.6z" fill="#b9bcc2"/></svg>
<span id="t116" class="t" style="left:1400px;top:360px;letter-spacing:-0.23px;">BL12:Det:PCh</span>
<span id="t117" class="t" style="left:1505.5px;top:360px;letter-spacing:-0.12px;">1.000</span>
<div class="a " style="left:1613px;top:363px;width:10px;height:10px;background:#fcfcfc;border:1px solid #3c4350;border-radius:2px;"></div>
<svg class="a" style="left:1614.5px;top:364.5px;" width="9" height="9" viewBox="0 0 10 10"><path d="M1.700 5.300L4.100 7.800 8.300 2" fill="none" stroke="#1c2430" stroke-width="2"/></svg>
<div class="a " style="left:942px;top:425px;width:139px;height:21.5px;background:#c0c3c8;border-radius:4px;"></div>
<svg class="a" style="left:946.2px;top:428.5px" width="11.9" height="13.9" viewBox="0 0 12 14" fill="#000" preserveAspectRatio="none"><path d="M4 0h4l.700 1.100H12v1.700H0V1.100h3.300zM.800 3.800h10.400l-.600 8.900A1.400 1.400 0 0 1 9.200 14H2.800a1.400 1.400 0 0 1-1.400-1.300z"/></svg>
<span id="t118" class="t" style="left:962px;top:427px;letter-spacing:0.33px;">Delete Highlighted</span>
<div class="a " style="left:1087px;top:425px;width:99px;height:21.5px;background:#c0c3c8;border-radius:4px;"></div>
<svg class="a" style="left:1089.2px;top:429.3px" width="14.4" height="12.8" viewBox="0 0 15 13" fill="#000" preserveAspectRatio="none"><path d="M11.900.500a1.900 1.900 0 0 1 2.600 2.700L8 9.900 4.900 6.800zM4.200 7.500l3.100 3.100-1.400 1.100-2.600.300-1 .900L0 13l2.300-2.600.400-1.800zM5.500 6.200l.800-.800 3.100 3.100-.800.800z" fill-rule="evenodd"/></svg>
<span id="t119" class="t" style="left:1107px;top:427px;letter-spacing:0.43px;">Highlight All</span>
<div class="a " style="left:1192px;top:425px;width:144px;height:21.5px;background:#c0c3c8;border-radius:4px;"></div>
<svg class="a" style="left:1193.6px;top:428.2px" width="16.4" height="14.4" viewBox="0 0 17 16" fill="#000" preserveAspectRatio="none"><path d="M1.800.500h5.800v4.100h4v3L7.400 11.800l-.6 3.700H1.800A1.300 1.300 0 0 1 .500 14.200V1.800A1.300 1.300 0 0 1 1.800.500zM8.600.700l2.900 2.900H8.600zM14.300 7a1.200 1.200 0 0 1 1.700 0l.5.500a1.200 1.200 0 0 1 0 1.700l-.7.700-2.200-2.200zM12.800 8.500L15 10.700l-4 4-2.700.6.500-2.700z"/></svg>
<span id="t120" class="t" style="left:1212.2px;top:427px;letter-spacing:0.37px;">Update Highlighted</span>
<div class="a " style="left:1640px;top:425px;width:79px;height:21.5px;background:#c0c3c8;border-radius:4px;"></div>
<svg class="a" style="left:1643.8px;top:429.8px" width="12" height="12" viewBox="0 0 14 14" fill="#000" preserveAspectRatio="none"><path d="M1.500 0h8.800L14 3.700v8.800A1.500 1.500 0 0 1 12.500 14H1.500A1.500 1.500 0 0 1 0 12.500V1.500A1.500 1.500 0 0 1 1.500 0zM2 2v3.500h7.500V2zM7 7.700a2.150 2.150 0 1 0 .010 0z" fill-rule="evenodd"/></svg>
<span id="t121" class="t" style="left:1660px;top:427px;letter-spacing:-0.9px;">Save CSV</span>
<div class="a " style="left:931px;top:466px;width:73px;height:26.5px;background:#b5b8bd;border-radius:4px 4px 0 0;"></div>
<div class="a " style="left:931px;top:489.5px;width:73px;height:3px;background:#33a9fc;"></div>
<span id="t122" class="t" style="left:935px;top:469px;letter-spacing:0.17px;">Resolution</span>
<div class="a " style="left:1006px;top:468px;width:77px;height:22px;background:#c0c3c8;border-radius:4px 4px 0 0;"></div>
<span id="t123" class="t" style="left:1010px;top:470px;letter-spacing:0.21px;">Cumulative</span>
<div class="a " style="left:929px;top:492px;width:801px;height:502px;border:1px solid #c2c5ca;border-radius:4px;"></div>
<div class="a " style="left:942px;top:505px;width:775px;height:31px;background:#fafafa;border:1px solid #c2c5ca;border-radius:4px;"></div>
<div class="a " style="left:942px;top:505px;width:310px;height:32.7px;background:#c0c3c8;border-radius:4px 0 6px 4px;"></div>
<svg class="a" style="left:942px;top:505px" width="311" height="33" viewBox="0 0 311 33"><g transform="translate(6.7 10.8)"><path d="M10.6 0.8L0.3 9.4l1.2 1.4 1.6-1.3v7.4h5.7v-5h3.6v5h5.7V9.5l1.6 1.3 1.2-1.4-3.600-3V1.600h-2.400v2.800z" fill="#000"/></g><g transform="translate(42 7.7)"><path d="M3.200 10.400H17.400M10.600 2.800L3 10.400l7.600 7.600" fill="none" stroke="#6e6e6e" stroke-width="4.200" stroke-linecap="round" stroke-linejoin="round"/></g><g transform="translate(75 7.7)"><path d="M2.600 10.400H16.800M9.400 2.800L17 10.400l-7.600 7.600" fill="none" stroke="#6e6e6e" stroke-width="4.200" stroke-linecap="round" stroke-linejoin="round"/></g><rect x="110.8" y="10.4" width="1" height="13.200" fill="#6a6e76"/><rect x="264.4" y="10.4" width="1" height="13.200" fill="#6a6e76"/><g transform="translate(125.7 6.2)"><path d="M11.600 0l4.400 5h-2.900v5.100h5.100V7.400l5 4.400-5 4.400v-2.700h-5.100v5.100H16l-4.400 5-4.400-5h2.900v-5.100H5v2.700L0 11.800l5-4.400v2.700h5.100V5H7.200z" fill="#000"/></g><g transform="translate(160.2 7.3)"><circle cx="8.600" cy="8.600" r="6.900" fill="none" stroke="#000" stroke-width="3"/><path d="M13.600 13.600l7.200 7.200" stroke="#000" stroke-width="3.400" stroke-linecap="round"/></g><g transform="translate(195.1 10)"><path d="M0 2.400h21M0 9.200h21M0 16h21" stroke="#000" stroke-width="1.500"/><rect x="4.400" y="-0.300" width="4.600" height="5.400" rx="0.800" fill="#000"/><rect x="12.400" y="6.500" width="4.600" height="5.400" rx="0.800" fill="#000"/><rect x="5.200" y="13.300" width="4.600" height="5.400" rx="0.800" fill="#000"/></g><g transform="translate(226.8 7.7)"><path d="M0.600 0v19.900h24.400" fill="none" stroke="#000" stroke-width="1.300"/><path d="M4 15.600l5.600-5.800 3.400 3.200 6.600-7.400" fill="none" stroke="#000" stroke-width="3" stroke-linejoin="miter"/><path d="M15.800 2.600h7v7z" fill="#000"/></g><g transform="translate(281.2 7.7)"><path d="M1 1h14.200L20 5.800V19.500H1z" fill="none" stroke="#000" stroke-width="1.800" stroke-linejoin="round"/><path d="M5 1.400h9.600v6H5z" fill="#000"/><rect x="10.400" y="2.400" width="2.600" height="3.800" fill="#c2c5ca"/><rect x="4.400" y="12" width="12.200" height="7" fill="none" stroke="#000" stroke-width="1.600"/></g></svg>
<div class="a " style="left:942px;top:545px;width:777px;height:438px;background:#fff;"></div>
<svg class="a" style="left:942px;top:545px" width="777" height="438" viewBox="0 0 777 438" font-family='DejaVu Sans, Liberation Sans, sans-serif' font-size="13.89" fill="#000"><rect x="104.93" y="10.4" width="45.47" height="114.7" fill="#1f77b4"/><rect x="150.41" y="93.9" width="45.47" height="31.2" fill="#aec7e8"/><rect x="241.35" y="10.4" width="45.47" height="114.7" fill="#1f77b4"/><rect x="286.83" y="83.01" width="45.47" height="42.09" fill="#aec7e8"/><rect x="377.78" y="10.4" width="45.47" height="114.7" fill="#1f77b4"/><rect x="423.25" y="94.13" width="45.47" height="30.97" fill="#aec7e8"/><rect x="514.2" y="10.4" width="45.47" height="114.7" fill="#1f77b4"/><rect x="559.67" y="92.75" width="45.47" height="32.35" fill="#aec7e8"/><rect x="650.62" y="10.4" width="45.47" height="114.7" fill="#1f77b4"/><rect x="696.09" y="99.06" width="45.47" height="26.04" fill="#aec7e8"/><rect x="73.1" y="10.4" width="700.3" height="114.7" fill="none" stroke="#000" stroke-width="1.1"/><path d="M73.1 119.37h-2.8M73.1 113.63h-2.8M73.1 107.89h-2.8M73.1 102.16h-2.8M73.1 90.69h-2.8M73.1 84.96h-2.8M73.1 79.22h-2.8M73.1 73.49h-2.8M73.1 62.01h-2.8M73.1 56.28h-2.8M73.1 50.54h-2.8M73.1 44.81h-2.8M73.1 33.34h-2.8M73.1 27.61h-2.8M73.1 21.87h-2.8M73.1 16.13h-2.8" stroke="#000" stroke-width="0.85" fill="none"/><text x="63.3" y="130.4" text-anchor="end">0%</text><text x="63.3" y="101.72" text-anchor="end">25%</text><text x="63.3" y="73.05" text-anchor="end">50%</text><text x="63.3" y="44.38" text-anchor="end">75%</text><text x="63.3" y="15.7" text-anchor="end">100%</text><path d="M73.1 125.1h-4.9M73.1 96.42h-4.9M73.1 67.75h-4.9M73.1 39.08h-4.9M73.1 10.4h-4.9M173.14 125.1v4.9M309.56 125.1v4.9M445.99 125.1v4.9M582.41 125.1v4.9M718.83 125.1v4.9" stroke="#000" stroke-width="1.1" fill="none"/><path d="M91.29 125.1v2.8M118.57 125.1v2.8M145.86 125.1v2.8M200.43 125.1v2.8M227.71 125.1v2.8M255 125.1v2.8M282.28 125.1v2.8M336.85 125.1v2.8M364.13 125.1v2.8M391.42 125.1v2.8M418.7 125.1v2.8M473.27 125.1v2.8M500.56 125.1v2.8M527.84 125.1v2.8M555.12 125.1v2.8M609.69 125.1v2.8M636.98 125.1v2.8M664.26 125.1v2.8M691.55 125.1v2.8M746.12 125.1v2.8M773.4 125.1v2.8" stroke="#000" stroke-width="0.85" fill="none"/><text transform="translate(15 69.25) rotate(-90)" text-anchor="middle">Completeness</text><rect x="639.3" y="20.1" width="130.5" height="46.5" rx="3" fill="#868686" opacity="0.95"/><rect x="636.7" y="17.5" width="130.5" height="46.5" rx="3" fill="#fff" stroke="#d0d0d0" stroke-width="1"/><rect x="641.9" y="23.2" width="27" height="9.7" fill="#1f77b4"/><rect x="641.9" y="44.2" width="27" height="9.7" fill="#aec7e8"/><text x="681.1" y="33.3">Symmetry</text><text x="681.1" y="54.3">Asymmetry</text><rect x="104.93" y="171.95" width="45.47" height="89.15" fill="#ff7f0e"/><rect x="150.41" y="258.97" width="45.47" height="2.13" fill="#ffbb78"/><rect x="241.35" y="198.78" width="45.47" height="62.32" fill="#ff7f0e"/><rect x="286.83" y="258.97" width="45.47" height="2.13" fill="#ffbb78"/><rect x="377.78" y="187" width="45.47" height="74.1" fill="#ff7f0e"/><rect x="423.25" y="258.97" width="45.47" height="2.13" fill="#ffbb78"/><rect x="514.2" y="151.18" width="45.47" height="109.92" fill="#ff7f0e"/><rect x="559.67" y="257.99" width="45.47" height="3.11" fill="#ffbb78"/><rect x="650.62" y="176.04" width="45.47" height="85.06" fill="#ff7f0e"/><rect x="696.09" y="260.28" width="45.47" height="0.82" fill="#ffbb78"/><rect x="73.1" y="146.6" width="700.3" height="114.5" fill="none" stroke="#000" stroke-width="1.1"/><path d="M73.1 261.1h-2.8M73.1 252.92h-2.8M73.1 236.56h-2.8M73.1 228.39h-2.8M73.1 220.21h-2.8M73.1 203.85h-2.8M73.1 195.67h-2.8M73.1 187.49h-2.8M73.1 171.14h-2.8M73.1 162.96h-2.8M73.1 154.78h-2.8" stroke="#000" stroke-width="0.85" fill="none"/><text x="63.3" y="250.04" text-anchor="end">2</text><text x="63.3" y="217.33" text-anchor="end">4</text><text x="63.3" y="184.61" text-anchor="end">6</text><text x="63.3" y="151.9" text-anchor="end">8</text><path d="M73.1 244.74h-4.9M73.1 212.03h-4.9M73.1 179.31h-4.9M73.1 146.6h-4.9M173.14 261.1v4.9M309.56 261.1v4.9M445.99 261.1v4.9M582.41 261.1v4.9M718.83 261.1v4.9" stroke="#000" stroke-width="1.1" fill="none"/><path d="M91.29 261.1v2.8M118.57 261.1v2.8M145.86 261.1v2.8M200.43 261.1v2.8M227.71 261.1v2.8M255 261.1v2.8M282.28 261.1v2.8M336.85 261.1v2.8M364.13 261.1v2.8M391.42 261.1v2.8M418.7 261.1v2.8M473.27 261.1v2.8M500.56 261.1v2.8M527.84 261.1v2.8M555.12 261.1v2.8M609.69 261.1v2.8M636.98 261.1v2.8M664.26 261.1v2.8M691.55 261.1v2.8M746.12 261.1v2.8M773.4 261.1v2.8" stroke="#000" stroke-width="0.85" fill="none"/><text transform="translate(45 205.35) rotate(-90)" text-anchor="middle">Redundancy</text><rect x="639.3" y="156.3" width="130.5" height="46.5" rx="3" fill="#868686" opacity="0.95"/><rect x="636.7" y="153.7" width="130.5" height="46.5" rx="3" fill="#fff" stroke="#d0d0d0" stroke-width="1"/><rect x="641.9" y="159.4" width="27" height="9.7" fill="#ff7f0e"/><rect x="641.9" y="180.4" width="27" height="9.7" fill="#ffbb78"/><text x="681.1" y="169.5">Symmetry</text><text x="681.1" y="190.5">Asymmetry</text><rect x="104.93" y="369.76" width="45.47" height="19.54" fill="#2ca02c"/><rect x="150.41" y="279.88" width="45.47" height="109.42" fill="#98df8a"/><rect x="241.35" y="385.83" width="45.47" height="3.47" fill="#2ca02c"/><rect x="286.83" y="373.08" width="45.47" height="16.22" fill="#98df8a"/><rect x="377.78" y="384.67" width="45.47" height="4.63" fill="#2ca02c"/><rect x="423.25" y="365.67" width="45.47" height="23.63" fill="#98df8a"/><rect x="514.2" y="383.89" width="45.47" height="5.41" fill="#2ca02c"/><rect x="559.67" y="353.78" width="45.47" height="35.52" fill="#98df8a"/><rect x="650.62" y="383.89" width="45.47" height="5.41" fill="#2ca02c"/><rect x="696.09" y="353.78" width="45.47" height="35.52" fill="#98df8a"/><rect x="73.1" y="274.4" width="700.3" height="114.9" fill="none" stroke="#000" stroke-width="1.1"/><path d="M73.1 381.58h-2.8M73.1 373.86h-2.8M73.1 366.13h-2.8M73.1 358.41h-2.8M73.1 342.97h-2.8M73.1 335.25h-2.8M73.1 327.53h-2.8M73.1 319.8h-2.8M73.1 304.36h-2.8M73.1 296.64h-2.8M73.1 288.92h-2.8M73.1 281.2h-2.8" stroke="#000" stroke-width="0.85" fill="none"/><text x="63.3" y="394.6" text-anchor="end">0</text><text x="63.3" y="355.99" text-anchor="end">50</text><text x="63.3" y="317.38" text-anchor="end">100</text><path d="M73.1 389.3h-4.9M73.1 350.69h-4.9M73.1 312.08h-4.9M173.14 389.3v4.9M309.56 389.3v4.9M445.99 389.3v4.9M582.41 389.3v4.9M718.83 389.3v4.9" stroke="#000" stroke-width="1.1" fill="none"/><path d="M91.29 389.3v2.8M118.57 389.3v2.8M145.86 389.3v2.8M200.43 389.3v2.8M227.71 389.3v2.8M255 389.3v2.8M282.28 389.3v2.8M336.85 389.3v2.8M364.13 389.3v2.8M391.42 389.3v2.8M418.7 389.3v2.8M473.27 389.3v2.8M500.56 389.3v2.8M527.84 389.3v2.8M555.12 389.3v2.8M609.69 389.3v2.8M636.98 389.3v2.8M664.26 389.3v2.8M691.55 389.3v2.8M746.12 389.3v2.8M773.4 389.3v2.8" stroke="#000" stroke-width="0.85" fill="none"/><text transform="translate(29 333.35) rotate(-90)" text-anchor="middle">Unique</text><rect x="639.3" y="284.1" width="130.5" height="46.5" rx="3" fill="#868686" opacity="0.95"/><rect x="636.7" y="281.5" width="130.5" height="46.5" rx="3" fill="#fff" stroke="#d0d0d0" stroke-width="1"/><rect x="641.9" y="287.2" width="27" height="9.7" fill="#2ca02c"/><rect x="641.9" y="308.2" width="27" height="9.7" fill="#98df8a"/><text x="681.1" y="297.3">Symmetry</text><text x="681.1" y="318.3">Asymmetry</text><text x="173.14" y="409.8" text-anchor="middle">Overall</text><text x="309.56" y="409.8" text-anchor="middle">5.44-1.37</text><text x="445.99" y="409.8" text-anchor="middle">1.37-0.98</text><text x="582.41" y="409.8" text-anchor="middle">0.98-0.81</text><text x="718.83" y="409.8" text-anchor="middle">0.81-0.70</text><text x="423.25" y="429.4" text-anchor="middle">Resolution Shell [Å]</text></svg>
</body></html>
